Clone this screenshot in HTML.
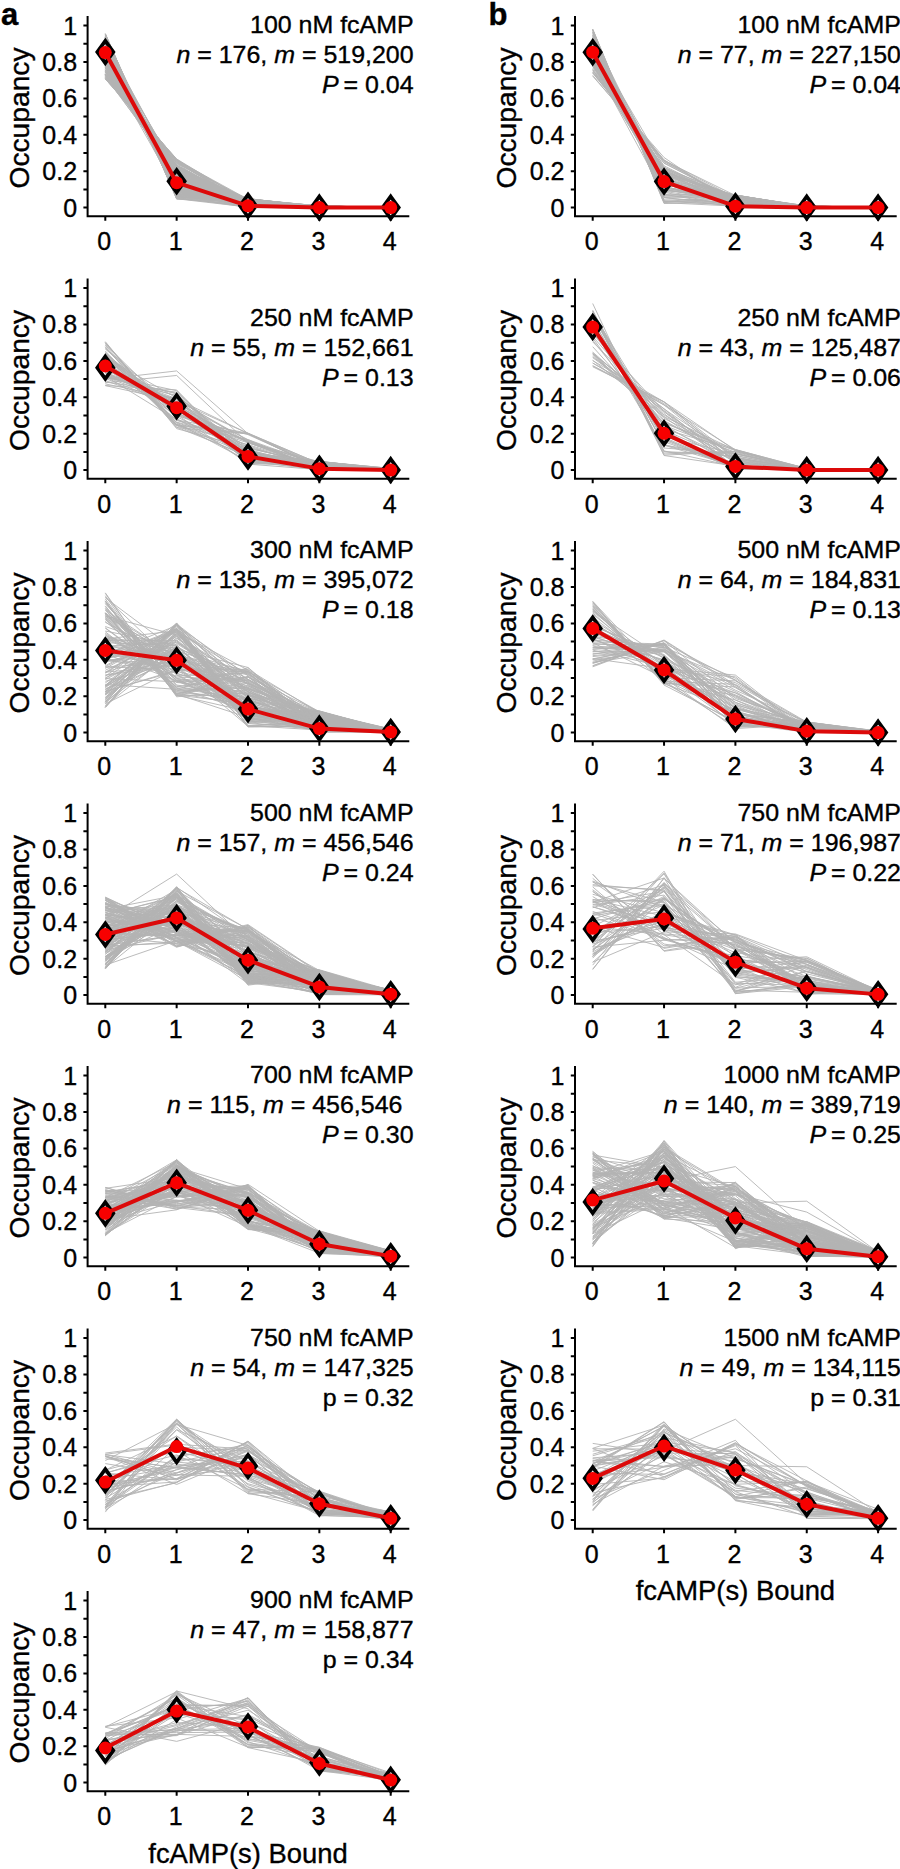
<!DOCTYPE html>
<html><head><meta charset="utf-8"><style>
html,body{margin:0;padding:0;background:#fff;}
body{width:900px;height:1869px;overflow:hidden;}
svg text{font-family:"Liberation Sans", sans-serif;fill:#000;stroke:#000;stroke-width:0.35px;}
</style></head><body>
<svg width="900" height="1869" viewBox="0 0 900 1869" style="display:block"><rect width="900" height="1869" fill="#fff"/><g><path d="M105.3,65.37 L176.65,167.33 L248,203.98 L319.35,206.86 L390.7,207.6 M105.3,40.05 L176.65,191.18 L248,206.85 L319.35,206.25 L390.7,207.6 M105.3,58.24 L176.65,173.57 L248,200.13 L319.35,206.64 L390.7,207.6 M105.3,75.52 L176.65,166.74 L248,205 L319.35,205.91 L390.7,207.6 M105.3,41.61 L176.65,196.51 L248,200.13 L319.35,206.1 L390.7,207.6 M105.3,55.94 L176.65,173.13 L248,203.64 L319.35,207.31 L390.7,207.6 M105.3,42.08 L176.65,175 L248,207.03 L319.35,207.14 L390.7,207.6 M105.3,37.35 L176.65,192.19 L248,204.16 L319.35,207.43 L390.7,207.6 M105.3,73.97 L176.65,171.22 L248,198.89 L319.35,206.19 L390.7,207.6 M105.3,50.5 L176.65,189.24 L248,200.87 L319.35,205.91 L390.7,207.6 M105.3,56.9 L176.65,185.37 L248,205.37 L319.35,206.23 L390.7,207.6 M105.3,74.53 L176.65,159.8 L248,201.36 L319.35,207.52 L390.7,207.6 M105.3,60.98 L176.65,179.51 L248,201.45 L319.35,206.12 L390.7,207.6 M105.3,65.26 L176.65,166.33 L248,207.06 L319.35,206 L390.7,207.6 M105.3,65.77 L176.65,168.02 L248,206.85 L319.35,206.63 L390.7,207.6 M105.3,48.99 L176.65,187.77 L248,205.94 L319.35,206.48 L390.7,207.6 M105.3,74.31 L176.65,163.36 L248,201.46 L319.35,207.23 L390.7,207.6 M105.3,72.56 L176.65,166.89 L248,203.77 L319.35,206.12 L390.7,207.6 M105.3,55.56 L176.65,186.81 L248,200.11 L319.35,206.1 L390.7,207.6 M105.3,42.39 L176.65,173.51 L248,204.64 L319.35,207.44 L390.7,207.6 M105.3,41.03 L176.65,191.04 L248,205.06 L319.35,206.2 L390.7,207.6 M105.3,64.26 L176.65,171.26 L248,202.66 L319.35,206.48 L390.7,207.6 M105.3,46.5 L176.65,187.03 L248,199.84 L319.35,207.45 L390.7,207.6 M105.3,70.08 L176.65,175.46 L248,202.1 L319.35,206 L390.7,207.6 M105.3,77.92 L176.65,159.16 L248,205.76 L319.35,207.19 L390.7,207.6 M105.3,69.72 L176.65,161.47 L248,200.5 L319.35,207.51 L390.7,207.6 M105.3,75.78 L176.65,162.57 L248,204.41 L319.35,206.11 L390.7,207.6 M105.3,49.2 L176.65,188.72 L248,204.74 L319.35,206.18 L390.7,207.6 M105.3,55.54 L176.65,190.7 L248,198.66 L319.35,206.82 L390.7,207.6 M105.3,37.56 L176.65,197.26 L248,199.01 L319.35,207.18 L390.7,207.6 M105.3,69.57 L176.65,179.91 L248,201.69 L319.35,206.88 L390.7,207.6 M105.3,71.15 L176.65,161.46 L248,205.99 L319.35,207.53 L390.7,207.6 M105.3,43.38 L176.65,189.64 L248,199.13 L319.35,206.71 L390.7,207.6 M105.3,49.8 L176.65,177.98 L248,206.84 L319.35,206.36 L390.7,207.6 M105.3,36.24 L176.65,189.42 L248,199.17 L319.35,207.58 L390.7,207.6 M105.3,46.51 L176.65,176.85 L248,201.13 L319.35,207.51 L390.7,207.6 M105.3,52.89 L176.65,185.7 L248,201.29 L319.35,206.59 L390.7,207.6 M105.3,74.55 L176.65,166.65 L248,201.31 L319.35,206.92 L390.7,207.6 M105.3,78.93 L176.65,160.21 L248,199.27 L319.35,207.15 L390.7,207.6 M105.3,52.64 L176.65,184.98 L248,204.61 L319.35,206.04 L390.7,207.6 M105.3,34.31 L176.65,198.54 L248,205.66 L319.35,206.58 L390.7,207.6 M105.3,62.7 L176.65,184.17 L248,198.95 L319.35,206.99 L390.7,207.6 M105.3,64.24 L176.65,172.44 L248,203.48 L319.35,206.87 L390.7,207.6 M105.3,74.91 L176.65,166.99 L248,205.88 L319.35,205.81 L390.7,207.6 M105.3,62.66 L176.65,167.33 L248,202.24 L319.35,206.78 L390.7,207.6 M105.3,39.79 L176.65,193.72 L248,201.97 L319.35,207.31 L390.7,207.6 M105.3,71.63 L176.65,169.27 L248,205.23 L319.35,206.67 L390.7,207.6 M105.3,38.67 L176.65,194 L248,201.36 L319.35,207.48 L390.7,207.6 M105.3,73.64 L176.65,166.79 L248,202.31 L319.35,206.62 L390.7,207.6 M105.3,44.89 L176.65,188.64 L248,206.06 L319.35,206.28 L390.7,207.6 M105.3,41.65 L176.65,190.43 L248,204.84 L319.35,206.74 L390.7,207.6 M105.3,75.02 L176.65,167.74 L248,198.77 L319.35,206.72 L390.7,207.6 M105.3,63.39 L176.65,167.97 L248,205.25 L319.35,206.86 L390.7,207.6 M105.3,67.85 L176.65,162.14 L248,204.48 L319.35,207.14 L390.7,207.6 M105.3,74.7 L176.65,165.51 L248,201.6 L319.35,206.14 L390.7,207.6 M105.3,75.78 L176.65,174.31 L248,206.21 L319.35,205.79 L390.7,207.6 M105.3,63.01 L176.65,166.58 L248,205.43 L319.35,207.26 L390.7,207.6 M105.3,51.63 L176.65,176.74 L248,201.05 L319.35,207.22 L390.7,207.6 M105.3,59.95 L176.65,167.93 L248,206.51 L319.35,206.77 L390.7,207.6 M105.3,35.06 L176.65,190.43 L248,205.07 L319.35,207.52 L390.7,207.6 M105.3,56.39 L176.65,188.53 L248,199.05 L319.35,207.35 L390.7,207.6 M105.3,54.13 L176.65,181.82 L248,206.18 L319.35,206.87 L390.7,207.6 M105.3,57.16 L176.65,183.82 L248,199.44 L319.35,206.62 L390.7,207.6 M105.3,70.8 L176.65,164.8 L248,205.69 L319.35,206.07 L390.7,207.6 M105.3,40.5 L176.65,191.76 L248,206.66 L319.35,207.13 L390.7,207.6 M105.3,54.84 L176.65,186.61 L248,201.74 L319.35,206.89 L390.7,207.6 M105.3,70.17 L176.65,171.07 L248,201.44 L319.35,206.21 L390.7,207.6 M105.3,56.29 L176.65,181.07 L248,201.29 L319.35,206.97 L390.7,207.6 M105.3,54.38 L176.65,176.14 L248,200.42 L319.35,207.33 L390.7,207.6 M105.3,68.19 L176.65,175.83 L248,200.55 L319.35,206.17 L390.7,207.6 M105.3,50.31 L176.65,187.29 L248,204.17 L319.35,206.19 L390.7,207.6 M105.3,36.5 L176.65,198.58 L248,198.96 L319.35,205.98 L390.7,207.6 M105.3,64.1 L176.65,182.91 L248,203.12 L319.35,205.84 L390.7,207.6 M105.3,37.15 L176.65,192.84 L248,206.18 L319.35,207.16 L390.7,207.6 M105.3,67.11 L176.65,174.84 L248,204.18 L319.35,206.05 L390.7,207.6 M105.3,64.37 L176.65,171.59 L248,201.56 L319.35,206.91 L390.7,207.6 M105.3,47.47 L176.65,178.81 L248,207.19 L319.35,206.44 L390.7,207.6 M105.3,63.78 L176.65,190.32 L248,199.58 L319.35,206.11 L390.7,207.6 M105.3,60.77 L176.65,171.81 L248,204.27 L319.35,206.21 L390.7,207.6 M105.3,71.72 L176.65,173.24 L248,199.37 L319.35,206.43 L390.7,207.6 M105.3,44.15 L176.65,184.4 L248,201.21 L319.35,207.51 L390.7,207.6 M105.3,48.02 L176.65,169.63 L248,204.52 L319.35,207.58 L390.7,207.6 M105.3,78.39 L176.65,159.69 L248,203.84 L319.35,207.2 L390.7,207.6 M105.3,65.29 L176.65,165.28 L248,203.45 L319.35,206.8 L390.7,207.6 M105.3,68.37 L176.65,174.01 L248,199.53 L319.35,207.02 L390.7,207.6 M105.3,72.11 L176.65,168.79 L248,199.37 L319.35,206.06 L390.7,207.6 M105.3,50.15 L176.65,175.71 L248,205.38 L319.35,206.97 L390.7,207.6 M105.3,37.32 L176.65,193.52 L248,202.93 L319.35,207.2 L390.7,207.6 M105.3,52.61 L176.65,178.01 L248,201.54 L319.35,207.35 L390.7,207.6 M105.3,46.91 L176.65,188.98 L248,199.59 L319.35,207.21 L390.7,207.6 M105.3,45.22 L176.65,191.65 L248,203.58 L319.35,206.95 L390.7,207.6 M105.3,41.73 L176.65,192.84 L248,200.94 L319.35,207.23 L390.7,207.6 M105.3,49.93 L176.65,181.59 L248,204.08 L319.35,206.94 L390.7,207.6 M105.3,44.89 L176.65,184.9 L248,201.82 L319.35,207.34 L390.7,207.6 M105.3,78.75 L176.65,160.35 L248,200.46 L319.35,205.88 L390.7,207.6 M105.3,55.87 L176.65,188.58 L248,203.7 L319.35,206.31 L390.7,207.6 M105.3,51.67 L176.65,191.55 L248,201.49 L319.35,205.98 L390.7,207.6 M105.3,33.63 L176.65,198.78 L248,207.04 L319.35,205.97 L390.7,207.6 M105.3,55.71 L176.65,172.87 L248,203.85 L319.35,206.49 L390.7,207.6 M105.3,36.04 L176.65,187.76 L248,206.96 L319.35,206.96 L390.7,207.6 M105.3,66.42 L176.65,166.17 L248,206.63 L319.35,206.91 L390.7,207.6 M105.3,43 L176.65,187.06 L248,206.49 L319.35,207.24 L390.7,207.6 M105.3,49.56 L176.65,194.94 L248,200.7 L319.35,206.23 L390.7,207.6 M105.3,58.6 L176.65,175.3 L248,200.46 L319.35,207.44 L390.7,207.6 M105.3,77.43 L176.65,165.83 L248,201.78 L319.35,206.42 L390.7,207.6 M105.3,62.81 L176.65,175.07 L248,206.27 L319.35,206.07 L390.7,207.6 M105.3,37.4 L176.65,194.26 L248,202.99 L319.35,206.42 L390.7,207.6 M105.3,67.55 L176.65,181.4 L248,200.45 L319.35,205.88 L390.7,207.6 M105.3,35.57 L176.65,197.38 L248,207.25 L319.35,205.95 L390.7,207.6 M105.3,46.49 L176.65,189.67 L248,199.89 L319.35,207.24 L390.7,207.6 M105.3,37.47 L176.65,189.09 L248,207.38 L319.35,207.11 L390.7,207.6 M105.3,52.48 L176.65,189.66 L248,203.6 L319.35,206 L390.7,207.6 M105.3,34.97 L176.65,196.36 L248,204.22 L319.35,206.69 L390.7,207.6 M105.3,37.47 L176.65,196.33 L248,200.58 L319.35,207.05 L390.7,207.6 M105.3,42.85 L176.65,196.78 L248,199.81 L319.35,206.72 L390.7,207.6 M105.3,65.3 L176.65,165.37 L248,204.32 L319.35,207.04 L390.7,207.6 M105.3,52.69 L176.65,177.98 L248,203.09 L319.35,206.76 L390.7,207.6 M105.3,78.92 L176.65,158.97 L248,202.09 L319.35,207.46 L390.7,207.6 M105.3,50.47 L176.65,184.46 L248,204.5 L319.35,206.27 L390.7,207.6 M105.3,47.32 L176.65,182.82 L248,202.22 L319.35,207.35 L390.7,207.6 M105.3,44.71 L176.65,178.69 L248,202.91 L319.35,207.52 L390.7,207.6 M105.3,38.5 L176.65,191.08 L248,203.35 L319.35,206.98 L390.7,207.6 M105.3,37.92 L176.65,191.72 L248,207.15 L319.35,206.98 L390.7,207.6 M105.3,66.31 L176.65,172.85 L248,202.96 L319.35,205.82 L390.7,207.6 M105.3,38.24 L176.65,196.76 L248,201.87 L319.35,206.13 L390.7,207.6 M105.3,67.86 L176.65,163.75 L248,206.85 L319.35,206.03 L390.7,207.6 M105.3,47.02 L176.65,170.9 L248,207.5 L319.35,207.13 L390.7,207.6 M105.3,69.99 L176.65,167.66 L248,203.38 L319.35,206.3 L390.7,207.6 M105.3,51.34 L176.65,183.79 L248,201 L319.35,206.95 L390.7,207.6 M105.3,38.75 L176.65,189.74 L248,201.3 L319.35,207.14 L390.7,207.6 M105.3,43.85 L176.65,185.22 L248,206.99 L319.35,207.33 L390.7,207.6 M105.3,38.49 L176.65,195.89 L248,205.09 L319.35,206.21 L390.7,207.6 M105.3,57.16 L176.65,168.13 L248,199.9 L319.35,207.56 L390.7,207.6 M105.3,43.79 L176.65,183.14 L248,205.91 L319.35,207.36 L390.7,207.6 M105.3,45.53 L176.65,191.17 L248,202.23 L319.35,206.03 L390.7,207.6 M105.3,45.12 L176.65,189.94 L248,204.21 L319.35,206.72 L390.7,207.6 M105.3,53.08 L176.65,188.64 L248,198.53 L319.35,207.35 L390.7,207.6 M105.3,62.29 L176.65,173.9 L248,200.54 L319.35,206.49 L390.7,207.6 M105.3,66.34 L176.65,168.85 L248,205.06 L319.35,206.34 L390.7,207.6 M105.3,59.84 L176.65,178.21 L248,200.47 L319.35,206.32 L390.7,207.6 M105.3,76.73 L176.65,160.91 L248,205.21 L319.35,206.29 L390.7,207.6 M105.3,35.93 L176.65,196.12 L248,201.99 L319.35,207.16 L390.7,207.6 M105.3,48.83 L176.65,191.85 L248,198.58 L319.35,207.34 L390.7,207.6 M105.3,54.45 L176.65,186.1 L248,203.61 L319.35,206.97 L390.7,207.6 M105.3,42.79 L176.65,194.89 L248,203.17 L319.35,205.99 L390.7,207.6 M105.3,64.16 L176.65,166.71 L248,205.62 L319.35,206.66 L390.7,207.6 M105.3,34.48 L176.65,198.3 L248,205.7 L319.35,206.49 L390.7,207.6 M105.3,40.58 L176.65,187.75 L248,201.14 L319.35,207.43 L390.7,207.6 M105.3,37.27 L176.65,194.02 L248,206.17 L319.35,206.73 L390.7,207.6 M105.3,50.27 L176.65,176.59 L248,204.74 L319.35,207.2 L390.7,207.6 M105.3,43.5 L176.65,191.18 L248,200.43 L319.35,207.5 L390.7,207.6 M105.3,47.65 L176.65,194.29 L248,205.9 L319.35,206.28 L390.7,207.6 M105.3,49.54 L176.65,191.42 L248,206.76 L319.35,206.16 L390.7,207.6 M105.3,40.94 L176.65,188.2 L248,203.07 L319.35,207.48 L390.7,207.6 M105.3,65.42 L176.65,165.93 L248,207.27 L319.35,205.96 L390.7,207.6 M105.3,71.98 L176.65,176.63 L248,199.35 L319.35,205.91 L390.7,207.6 M105.3,61.38 L176.65,168.49 L248,203.23 L319.35,207.29 L390.7,207.6 M105.3,74.48 L176.65,162.92 L248,199.37 L319.35,206.82 L390.7,207.6 M105.3,77.67 L176.65,160.27 L248,205.9 L319.35,206.07 L390.7,207.6 M105.3,70.34 L176.65,174.41 L248,202.51 L319.35,205.95 L390.7,207.6 M105.3,37.1 L176.65,195.47 L248,207.22 L319.35,206.03 L390.7,207.6 M105.3,61.69 L176.65,177.67 L248,201.93 L319.35,206.26 L390.7,207.6 M105.3,33.57 L176.65,199.14 L248,201.83 L319.35,207.06 L390.7,207.6 M105.3,62.54 L176.65,181.77 L248,199.88 L319.35,206.27 L390.7,207.6 M105.3,51.31 L176.65,194.63 L248,202.03 L319.35,205.88 L390.7,207.6 M105.3,65.99 L176.65,171.25 L248,199.3 L319.35,207.21 L390.7,207.6 M105.3,74.41 L176.65,168.56 L248,199.22 L319.35,206.01 L390.7,207.6 M105.3,52.53 L176.65,182.05 L248,201.15 L319.35,206.65 L390.7,207.6 M105.3,50.55 L176.65,178.56 L248,201.25 L319.35,206.88 L390.7,207.6 M105.3,34.93 L176.65,196.6 L248,206.78 L319.35,206.78 L390.7,207.6 M105.3,61.82 L176.65,176.99 L248,201.83 L319.35,206.25 L390.7,207.6 M105.3,76.85 L176.65,172.45 L248,199.71 L319.35,205.85 L390.7,207.6 M105.3,34 L176.65,196.42 L248,200.01 L319.35,207.39 L390.7,207.6 M105.3,64.75 L176.65,168.63 L248,201.3 L319.35,206.21 L390.7,207.6 M105.3,60.96 L176.65,173.14 L248,205.69 L319.35,206.12 L390.7,207.6 M105.3,47.57 L176.65,181.11 L248,205.76 L319.35,206.27 L390.7,207.6" fill="none" stroke="#b3b3b3" stroke-width="0.9" stroke-linejoin="round"/><path d="M87.6,16 V216.2 H409.3" fill="none" stroke="#000" stroke-width="2"/><path d="M83.4,207.6 H87.6 M83.4,189.4 H87.6 M83.4,171.2 H87.6 M83.4,153 H87.6 M83.4,134.8 H87.6 M83.4,116.6 H87.6 M83.4,98.4 H87.6 M83.4,80.2 H87.6 M83.4,62 H87.6 M83.4,43.8 H87.6 M83.4,25.6 H87.6 M105.3,216.2 V220.7 M176.65,216.2 V220.7 M248,216.2 V220.7 M319.35,216.2 V220.7 M390.7,216.2 V220.7" stroke="#000" stroke-width="2"/><path d="M105.3,40.89 L113.3,51.99 L105.3,63.09 L97.3,51.99Z" fill="none" stroke="#000" stroke-width="3.7" stroke-miterlimit="10"/><path d="M176.65,170.11 L184.65,181.21 L176.65,192.31 L168.65,181.21Z" fill="none" stroke="#000" stroke-width="3.7" stroke-miterlimit="10"/><path d="M248,194.68 L256,205.78 L248,216.88 L240,205.78Z" fill="none" stroke="#000" stroke-width="3.7" stroke-miterlimit="10"/><path d="M319.35,196.5 L327.35,207.6 L319.35,218.7 L311.35,207.6Z" fill="none" stroke="#000" stroke-width="3.7" stroke-miterlimit="10"/><path d="M390.7,196.5 L398.7,207.6 L390.7,218.7 L382.7,207.6Z" fill="none" stroke="#000" stroke-width="3.7" stroke-miterlimit="10"/><path d="M105.3,52.54 L176.65,182.67 L248,205.78 L319.35,207.6 L390.7,207.6" fill="none" stroke="#dc0a0a" stroke-width="4" stroke-linejoin="round"/><circle cx="105.3" cy="52.54" r="6.5" fill="#f70000"/><circle cx="176.65" cy="182.67" r="6.5" fill="#f70000"/><circle cx="248" cy="205.78" r="6.5" fill="#f70000"/><circle cx="319.35" cy="207.6" r="6.5" fill="#f70000"/><circle cx="390.7" cy="207.6" r="6.5" fill="#f70000"/><text transform="translate(77.1,216.5) scale(1.0,1)" text-anchor="end" font-size="25.0">0</text><text transform="translate(77.1,180.1) scale(1.0,1)" text-anchor="end" font-size="25.0">0.2</text><text transform="translate(77.1,143.7) scale(1.0,1)" text-anchor="end" font-size="25.0">0.4</text><text transform="translate(77.1,107.3) scale(1.0,1)" text-anchor="end" font-size="25.0">0.6</text><text transform="translate(77.1,70.9) scale(1.0,1)" text-anchor="end" font-size="25.0">0.8</text><text transform="translate(77.1,34.5) scale(1.0,1)" text-anchor="end" font-size="25.0">1</text><text transform="translate(104.3,250.2) scale(1.0,1)" text-anchor="middle" font-size="25.0">0</text><text transform="translate(175.65,250.2) scale(1.0,1)" text-anchor="middle" font-size="25.0">1</text><text transform="translate(247,250.2) scale(1.0,1)" text-anchor="middle" font-size="25.0">2</text><text transform="translate(318.35,250.2) scale(1.0,1)" text-anchor="middle" font-size="25.0">3</text><text transform="translate(389.7,250.2) scale(1.0,1)" text-anchor="middle" font-size="25.0">4</text><text transform="translate(28.8,118) rotate(-90)" text-anchor="middle" font-size="28.2">Occupancy</text><text transform="translate(413.6,33) scale(1.04,1)" text-anchor="end" font-size="24.0">100 nM fcAMP</text><text transform="translate(413.6,63) scale(1.04,1)" text-anchor="end" font-size="24.0"><tspan font-style="italic">n</tspan> = 176, <tspan font-style="italic">m</tspan> = 519,200</text><text transform="translate(413.6,93) scale(1.04,1)" text-anchor="end" font-size="24.0"><tspan font-style="italic">P</tspan><tspan dx="-2"> </tspan>= 0.04</text></g><g><path d="M105.3,367.89 L176.65,415.77 L248,434.64 L319.35,466.74 L390.7,469.63 M105.3,368.47 L176.65,404.06 L248,454.62 L319.35,464.81 L390.7,468.76 M105.3,372.56 L176.65,403.96 L248,450.75 L319.35,467.43 L390.7,468.39 M105.3,342.57 L176.65,422.92 L248,461.09 L319.35,469.22 L390.7,468.62 M105.3,376.2 L176.65,395.71 L248,450.57 L319.35,464.97 L390.7,469.75 M105.3,353.47 L176.65,424.65 L248,433.76 L319.35,466.94 L390.7,469.92 M105.3,349.04 L176.65,407.67 L248,460 L319.35,465.98 L390.7,470.04 M105.3,359.56 L176.65,406.32 L248,461.57 L319.35,464.22 L390.7,468.7 M105.3,360.97 L176.65,414.46 L248,445.59 L319.35,468.5 L390.7,468.53 M105.3,352.41 L176.65,422.49 L248,446.85 L319.35,466.49 L390.7,468.5 M105.3,347.34 L176.65,425.56 L248,457.04 L319.35,461.53 L390.7,468.51 M105.3,382.03 L176.65,392.18 L248,456.78 L319.35,466.71 L390.7,468.5 M105.3,368.13 L176.65,401.78 L248,451.88 L319.35,468.05 L390.7,469 M105.3,355.73 L176.65,405.62 L248,461.91 L319.35,464.93 L390.7,469.3 M105.3,375.42 L176.65,399.99 L248,440.31 L319.35,468.34 L390.7,469.54 M105.3,376.04 L176.65,419.98 L248,433.12 L319.35,463.65 L390.7,468.63 M105.3,342.56 L176.65,427.17 L248,455.81 L319.35,461.64 L390.7,469.56 M105.3,346.54 L176.65,427.61 L248,433.87 L319.35,467.72 L390.7,469.81 M105.3,378.43 L176.65,406.08 L248,442.37 L319.35,461.83 L390.7,468.74 M105.3,385.53 L176.65,389.94 L248,462.34 L319.35,461.71 L390.7,468.48 M105.3,376.23 L176.65,399.25 L248,452.79 L319.35,461.08 L390.7,470 M105.3,369.48 L176.65,405.64 L248,442.15 L319.35,469.3 L390.7,468.81 M105.3,355.02 L176.65,425.55 L248,433.43 L319.35,468.24 L390.7,469.32 M105.3,357.08 L176.65,398.05 L248,461.52 L319.35,469.42 L390.7,469.65 M105.3,372.35 L176.65,398.8 L248,442.35 L319.35,467.91 L390.7,469.96 M105.3,363.71 L176.65,406.24 L248,457.32 L319.35,461.76 L390.7,469.6 M105.3,341.62 L176.65,428.61 L248,448.45 L319.35,463.34 L390.7,469.13 M105.3,376.99 L176.65,402.85 L248,439.67 L319.35,469.29 L390.7,468.46 M105.3,373.44 L176.65,405.98 L248,454.55 L319.35,465.66 L390.7,468.3 M105.3,358.73 L176.65,416.55 L248,453.61 L319.35,461.38 L390.7,469.29 M105.3,377.09 L176.65,393.28 L248,463.33 L319.35,463.17 L390.7,468.58 M105.3,344.09 L176.65,414.34 L248,463.66 L319.35,465.61 L390.7,469.88 M105.3,351.02 L176.65,425.2 L248,444.62 L319.35,466.86 L390.7,468.35 M105.3,361.75 L176.65,411.62 L248,454.77 L319.35,462.22 L390.7,469.06 M105.3,356.46 L176.65,420.37 L248,442.79 L319.35,463.24 L390.7,469.39 M105.3,355.87 L176.65,413.96 L248,441 L319.35,467.24 L390.7,470.01 M105.3,356.3 L176.65,405.68 L248,459.77 L319.35,467.05 L390.7,469.28 M105.3,383.89 L176.65,398.93 L248,433.42 L319.35,465.68 L390.7,469.75 M105.3,355.3 L176.65,412.02 L248,454.24 L319.35,464.17 L390.7,469.69 M105.3,356.89 L176.65,413.21 L248,440.76 L319.35,468.83 L390.7,469.87 M105.3,385.61 L176.65,401.2 L248,433.36 L319.35,463.51 L390.7,468.63 M105.3,367.72 L176.65,402.25 L248,449.28 L319.35,469.47 L390.7,468.75 M105.3,356.19 L176.65,408.59 L248,442.46 L319.35,468.55 L390.7,470.07 M105.3,380.55 L176.65,406.29 L248,452.34 L319.35,461.81 L390.7,468.29 M105.3,372.52 L176.65,406.06 L248,452.78 L319.35,464.74 L390.7,468.36 M105.3,342.9 L176.65,424.73 L248,454.12 L319.35,468.88 L390.7,469.06 M105.3,368.25 L176.65,402.23 L248,447.63 L319.35,465.54 L390.7,469.85 M105.3,353.56 L176.65,409.23 L248,460.22 L319.35,464.78 L390.7,469.47 M105.3,345.12 L176.65,424.18 L248,451.7 L319.35,468.66 L390.7,468.67 M105.3,375.9 L176.65,393.87 L248,462.79 L319.35,465.38 L390.7,468.46 M105.3,376.82 L176.65,395.77 L248,453.84 L319.35,463 L390.7,469.62 M105.3,363.39 L176.65,419.94 L248,441.25 L319.35,464.87 L390.7,468.43 M105.3,375.16 L176.65,390.69 L248,464.12 L319.35,469.62 L390.7,468.56 M105.3,356.59 L176.65,422.19 L248,439.63 L319.35,465.31 L390.7,468.9 M105.3,348.05 L176.65,418.3 L248,461.81 L319.35,463.29 L390.7,468.83 M105.3,379.1 L176.65,370.91 L248,433.7 L319.35,464.64 L390.7,470.1 M105.3,382.74 L176.65,375.46 L248,442.8 L319.35,466.46 L390.7,470.1" fill="none" stroke="#b3b3b3" stroke-width="0.9" stroke-linejoin="round"/><path d="M87.6,278.5 V478.7 H409.3" fill="none" stroke="#000" stroke-width="2"/><path d="M83.4,470.1 H87.6 M83.4,451.9 H87.6 M83.4,433.7 H87.6 M83.4,415.5 H87.6 M83.4,397.3 H87.6 M83.4,379.1 H87.6 M83.4,360.9 H87.6 M83.4,342.7 H87.6 M83.4,324.5 H87.6 M83.4,306.3 H87.6 M83.4,288.1 H87.6 M105.3,478.7 V483.2 M176.65,478.7 V483.2 M248,478.7 V483.2 M319.35,478.7 V483.2 M390.7,478.7 V483.2" stroke="#000" stroke-width="2"/><path d="M105.3,356.53 L113.3,367.63 L105.3,378.73 L97.3,367.63Z" fill="none" stroke="#000" stroke-width="3.7" stroke-miterlimit="10"/><path d="M176.65,395.12 L184.65,406.22 L176.65,417.32 L168.65,406.22Z" fill="none" stroke="#000" stroke-width="3.7" stroke-miterlimit="10"/><path d="M248,445.35 L256,456.45 L248,467.55 L240,456.45Z" fill="none" stroke="#000" stroke-width="3.7" stroke-miterlimit="10"/><path d="M319.35,457.54 L327.35,468.64 L319.35,479.74 L311.35,468.64Z" fill="none" stroke="#000" stroke-width="3.7" stroke-miterlimit="10"/><path d="M390.7,459 L398.7,470.1 L390.7,481.2 L382.7,470.1Z" fill="none" stroke="#000" stroke-width="3.7" stroke-miterlimit="10"/><path d="M105.3,366 L176.65,407.67 L248,456.45 L319.35,468.64 L390.7,470.1" fill="none" stroke="#dc0a0a" stroke-width="4" stroke-linejoin="round"/><circle cx="105.3" cy="366" r="6.5" fill="#f70000"/><circle cx="176.65" cy="407.67" r="6.5" fill="#f70000"/><circle cx="248" cy="456.45" r="6.5" fill="#f70000"/><circle cx="319.35" cy="468.64" r="6.5" fill="#f70000"/><circle cx="390.7" cy="470.1" r="6.5" fill="#f70000"/><text transform="translate(77.1,479) scale(1.0,1)" text-anchor="end" font-size="25.0">0</text><text transform="translate(77.1,442.6) scale(1.0,1)" text-anchor="end" font-size="25.0">0.2</text><text transform="translate(77.1,406.2) scale(1.0,1)" text-anchor="end" font-size="25.0">0.4</text><text transform="translate(77.1,369.8) scale(1.0,1)" text-anchor="end" font-size="25.0">0.6</text><text transform="translate(77.1,333.4) scale(1.0,1)" text-anchor="end" font-size="25.0">0.8</text><text transform="translate(77.1,297) scale(1.0,1)" text-anchor="end" font-size="25.0">1</text><text transform="translate(104.3,512.7) scale(1.0,1)" text-anchor="middle" font-size="25.0">0</text><text transform="translate(175.65,512.7) scale(1.0,1)" text-anchor="middle" font-size="25.0">1</text><text transform="translate(247,512.7) scale(1.0,1)" text-anchor="middle" font-size="25.0">2</text><text transform="translate(318.35,512.7) scale(1.0,1)" text-anchor="middle" font-size="25.0">3</text><text transform="translate(389.7,512.7) scale(1.0,1)" text-anchor="middle" font-size="25.0">4</text><text transform="translate(28.8,380.5) rotate(-90)" text-anchor="middle" font-size="28.2">Occupancy</text><text transform="translate(413.6,325.5) scale(1.04,1)" text-anchor="end" font-size="24.0">250 nM fcAMP</text><text transform="translate(413.6,355.5) scale(1.04,1)" text-anchor="end" font-size="24.0"><tspan font-style="italic">n</tspan> = 55, <tspan font-style="italic">m</tspan> = 152,661</text><text transform="translate(413.6,385.5) scale(1.04,1)" text-anchor="end" font-size="24.0"><tspan font-style="italic">P</tspan><tspan dx="-2"> </tspan>= 0.13</text></g><g><path d="M105.3,619.07 L176.65,690.35 L248,686.08 L319.35,714.96 L390.7,731.52 M105.3,701.72 L176.65,625.5 L248,675.8 L319.35,732.22 L390.7,731.59 M105.3,685.21 L176.65,630.05 L248,720.98 L319.35,713.21 L390.7,730.84 M105.3,693.83 L176.65,647.01 L248,682.1 L319.35,717.92 L390.7,729.84 M105.3,686.97 L176.65,640.78 L248,694.62 L319.35,717.65 L390.7,730.79 M105.3,600.86 L176.65,695.25 L248,711.38 L319.35,711.07 L390.7,731.8 M105.3,670.26 L176.65,636.42 L248,710.1 L319.35,723.51 L390.7,731.02 M105.3,639.49 L176.65,667.62 L248,719.66 L319.35,711.33 L390.7,730.35 M105.3,638.73 L176.65,657.49 L248,706.63 L319.35,718.23 L390.7,732.06 M105.3,636.95 L176.65,648.39 L248,719.47 L319.35,720.11 L390.7,730.87 M105.3,699.7 L176.65,633.02 L248,698.16 L319.35,712.56 L390.7,730.63 M105.3,612.88 L176.65,688.2 L248,710.58 L319.35,711.23 L390.7,731.91 M105.3,642.7 L176.65,645.44 L248,707.76 L319.35,729.99 L390.7,730.9 M105.3,672.18 L176.65,665.24 L248,683.41 L319.35,711.75 L390.7,732.39 M105.3,682.9 L176.65,634.39 L248,697.57 L319.35,725.56 L390.7,731.39 M105.3,616.14 L176.65,657.23 L248,708.21 L319.35,729.55 L390.7,732.29 M105.3,613.62 L176.65,668.13 L248,712.89 L319.35,725.31 L390.7,731.39 M105.3,650.51 L176.65,667.47 L248,685.8 L319.35,724.34 L390.7,731 M105.3,691.58 L176.65,628.51 L248,718.15 L319.35,715.27 L390.7,730.26 M105.3,616.91 L176.65,678.35 L248,699.27 L319.35,729.71 L390.7,729.6 M105.3,701.07 L176.65,629.65 L248,713.91 L319.35,713.28 L390.7,729.08 M105.3,646.01 L176.65,642.74 L248,683.42 L319.35,731.47 L390.7,732.57 M105.3,658.29 L176.65,632.33 L248,717.52 L319.35,720.93 L390.7,732.39 M105.3,653.39 L176.65,631.84 L248,720.6 L319.35,723.08 L390.7,732.19 M105.3,601.63 L176.65,695.17 L248,695.94 L319.35,716.68 L390.7,730.56 M105.3,702.42 L176.65,625.52 L248,691.39 L319.35,727.27 L390.7,730.8 M105.3,694.63 L176.65,643.69 L248,687.37 L319.35,714.57 L390.7,730.21 M105.3,605.88 L176.65,690.19 L248,702.45 L319.35,723.84 L390.7,729.55 M105.3,658.59 L176.65,675.93 L248,672.98 L319.35,730.94 L390.7,729.54 M105.3,661.09 L176.65,650.98 L248,709.46 L319.35,719.86 L390.7,729.59 M105.3,660.06 L176.65,629.08 L248,718.13 L319.35,730.54 L390.7,731.43 M105.3,652.95 L176.65,658.81 L248,700.79 L319.35,713.85 L390.7,732.16 M105.3,673.21 L176.65,628.48 L248,723.43 L319.35,714.04 L390.7,732.18 M105.3,699.12 L176.65,635.84 L248,679.51 L319.35,716.35 L390.7,731.98 M105.3,610.39 L176.65,680.95 L248,698.48 L319.35,727.22 L390.7,731.37 M105.3,638.36 L176.65,650.53 L248,716.96 L319.35,714.8 L390.7,732.16 M105.3,592.82 L176.65,694.16 L248,717.46 L319.35,729.64 L390.7,730.49 M105.3,657.9 L176.65,649.33 L248,691.57 L319.35,729.94 L390.7,730.85 M105.3,595.7 L176.65,696.82 L248,689.61 L319.35,731.36 L390.7,729.23 M105.3,626.53 L176.65,650.66 L248,721.23 L319.35,726.37 L390.7,729.83 M105.3,694.43 L176.65,629.31 L248,682.11 L319.35,730.93 L390.7,731.75 M105.3,618.34 L176.65,693.51 L248,683.12 L319.35,718.16 L390.7,729.62 M105.3,613.06 L176.65,656.4 L248,725.69 L319.35,721.94 L390.7,729.67 M105.3,600.81 L176.65,692.12 L248,699.45 L319.35,723.42 L390.7,730.93 M105.3,613.42 L176.65,687.73 L248,694.18 L319.35,721.77 L390.7,730.46 M105.3,691.19 L176.65,671.23 L248,688.34 L319.35,712.08 L390.7,728.98 M105.3,684.41 L176.65,689.34 L248,667.78 L319.35,730.01 L390.7,729.04 M105.3,678.46 L176.65,629.1 L248,711.52 L319.35,716.01 L390.7,732.55 M105.3,693.61 L176.65,634.67 L248,684.27 L319.35,730.3 L390.7,729.58 M105.3,666.72 L176.65,630.51 L248,722.54 L319.35,729.93 L390.7,729.13 M105.3,603.82 L176.65,678.4 L248,715.34 L319.35,719.36 L390.7,732.16 M105.3,697.14 L176.65,646.23 L248,688.88 L319.35,715.72 L390.7,729.08 M105.3,615.89 L176.65,635.15 L248,725.67 L319.35,730.03 L390.7,731.97 M105.3,687.6 L176.65,638.17 L248,689.91 L319.35,724.41 L390.7,730.72 M105.3,686.23 L176.65,651.13 L248,712.2 L319.35,710.9 L390.7,730.24 M105.3,691.69 L176.65,670 L248,671.57 L319.35,717.1 L390.7,729.7 M105.3,621.37 L176.65,680.53 L248,709.56 L319.35,717.07 L390.7,729.59 M105.3,608.2 L176.65,674.98 L248,715.32 L319.35,720.85 L390.7,731.59 M105.3,606.51 L176.65,695.7 L248,670.76 L319.35,729.23 L390.7,732.14 M105.3,602.82 L176.65,685.06 L248,695 L319.35,731.17 L390.7,731.16 M105.3,692.81 L176.65,626.83 L248,714.98 L319.35,728.76 L390.7,729.19 M105.3,601.13 L176.65,696.05 L248,676.94 L319.35,729.83 L390.7,730.57 M105.3,598.95 L176.65,693.19 L248,705.03 L319.35,720.69 L390.7,730.74 M105.3,703.8 L176.65,669 L248,669.46 L319.35,712.9 L390.7,729.07 M105.3,705.67 L176.65,649.12 L248,667.49 L319.35,726.98 L390.7,731.17 M105.3,660.07 L176.65,663.82 L248,683.19 L319.35,724.56 L390.7,730.94 M105.3,659.94 L176.65,657.59 L248,688.23 L319.35,726.98 L390.7,730.5 M105.3,653.04 L176.65,656.28 L248,710.87 L319.35,714.12 L390.7,730.87 M105.3,648.89 L176.65,673.21 L248,694.56 L319.35,723.09 L390.7,729.18 M105.3,679.64 L176.65,642.01 L248,690.51 L319.35,719.89 L390.7,732.04 M105.3,653.89 L176.65,680.82 L248,672.24 L319.35,728.53 L390.7,730.43 M105.3,685.92 L176.65,636.19 L248,694.56 L319.35,722.92 L390.7,731.27 M105.3,628.11 L176.65,682.17 L248,680.45 L319.35,719.16 L390.7,732.4 M105.3,608.79 L176.65,680.81 L248,711.91 L319.35,717.75 L390.7,731.49 M105.3,627.86 L176.65,679.51 L248,707 L319.35,714.2 L390.7,730.09 M105.3,677.73 L176.65,649.21 L248,707.82 L319.35,716.53 L390.7,729.16 M105.3,675.05 L176.65,660.35 L248,674.86 L319.35,724.45 L390.7,731.81 M105.3,666.94 L176.65,669.29 L248,681.18 L319.35,723.35 L390.7,729.6 M105.3,698.47 L176.65,631.81 L248,674.36 L319.35,718.58 L390.7,732.58 M105.3,706.5 L176.65,623.88 L248,692.11 L319.35,718.16 L390.7,730.91 M105.3,694.91 L176.65,655.19 L248,670.97 L319.35,722.47 L390.7,730.99 M105.3,675.21 L176.65,665.27 L248,683.37 L319.35,717.27 L390.7,729.91 M105.3,707.31 L176.65,624.65 L248,685.03 L319.35,721 L390.7,729.24 M105.3,654.07 L176.65,625.58 L248,726.85 L319.35,726.54 L390.7,731.61 M105.3,622.4 L176.65,659.57 L248,712 L319.35,730.98 L390.7,729.53 M105.3,617.27 L176.65,685.85 L248,701.14 L319.35,718.46 L390.7,729.87 M105.3,652.25 L176.65,670.19 L248,709.78 L319.35,711.51 L390.7,730.23 M105.3,697.79 L176.65,623.59 L248,719.27 L319.35,722.14 L390.7,731.45 M105.3,707.38 L176.65,623.91 L248,679.76 L319.35,719.26 L390.7,731.42 M105.3,612.64 L176.65,694.07 L248,676.42 L319.35,717.3 L390.7,732.17 M105.3,656.29 L176.65,654.69 L248,699.71 L319.35,723.23 L390.7,730.45 M105.3,676.34 L176.65,623.39 L248,726.72 L319.35,726.15 L390.7,731.8 M105.3,660.89 L176.65,666.39 L248,679.34 L319.35,716.4 L390.7,732.41 M105.3,678.54 L176.65,681.74 L248,677.18 L319.35,711.71 L390.7,729.81 M105.3,648.55 L176.65,653.86 L248,691.68 L319.35,726 L390.7,732.21 M105.3,645.85 L176.65,651.47 L248,713.32 L319.35,726.57 L390.7,729.38 M105.3,593.39 L176.65,694.94 L248,703.94 L319.35,725.12 L390.7,732.45 M105.3,633.39 L176.65,678.09 L248,693.08 L319.35,711.76 L390.7,732.51 M105.3,640.19 L176.65,640.72 L248,703.54 L319.35,731.57 L390.7,731.97 M105.3,701.58 L176.65,651.06 L248,671.6 L319.35,711.75 L390.7,732.13 M105.3,597.16 L176.65,665.3 L248,726.37 L319.35,726.32 L390.7,731.76 M105.3,654.87 L176.65,644.88 L248,718.79 L319.35,714.83 L390.7,730.83 M105.3,613.55 L176.65,691.43 L248,687.58 L319.35,720.9 L390.7,730.16 M105.3,689.41 L176.65,659.93 L248,671.38 L319.35,721.7 L390.7,731.48 M105.3,609.93 L176.65,657.72 L248,715.06 L319.35,726.77 L390.7,732.47 M105.3,597.73 L176.65,650.85 L248,726.5 L319.35,726.46 L390.7,732.55 M105.3,615.42 L176.65,689.05 L248,697.52 L319.35,719.22 L390.7,729.58 M105.3,665.73 L176.65,628.46 L248,718.41 L319.35,730.36 L390.7,730.99 M105.3,681.28 L176.65,662.34 L248,672.65 L319.35,728.5 L390.7,730.15 M105.3,688.88 L176.65,655.91 L248,673.84 L319.35,721.81 L390.7,731.03 M105.3,635.61 L176.65,660.62 L248,702.46 L319.35,723.01 L390.7,731.72 M105.3,702.56 L176.65,622.94 L248,708.27 L319.35,729.29 L390.7,731.35 M105.3,661.29 L176.65,646.42 L248,706.65 L319.35,724.27 L390.7,730.06 M105.3,638.92 L176.65,630.81 L248,726.21 L319.35,721.29 L390.7,731.96 M105.3,691.79 L176.65,638.14 L248,679.25 L319.35,722.38 L390.7,732.21 M105.3,613.93 L176.65,674.26 L248,712.46 L319.35,722.07 L390.7,730.76 M105.3,631.03 L176.65,645.32 L248,713.43 L319.35,730.65 L390.7,731.04 M105.3,686.16 L176.65,624.3 L248,720.87 L319.35,729.09 L390.7,731.12 M105.3,646.72 L176.65,677.07 L248,679.8 L319.35,725.18 L390.7,730.51 M105.3,707.44 L176.65,631.64 L248,670.12 L319.35,718.47 L390.7,729.6 M105.3,614.23 L176.65,660.22 L248,718.17 L319.35,727.13 L390.7,731 M105.3,656.91 L176.65,628.84 L248,723.58 L319.35,728.39 L390.7,730.78 M105.3,672.28 L176.65,630.73 L248,722.46 L319.35,714.35 L390.7,731.71 M105.3,690.03 L176.65,633.61 L248,693.39 L319.35,723.56 L390.7,731.3 M105.3,634.49 L176.65,682.51 L248,689.2 L319.35,713.03 L390.7,731.99 M105.3,685.78 L176.65,639.75 L248,697.76 L319.35,713.27 L390.7,732.12 M105.3,645.67 L176.65,657.6 L248,702.03 L319.35,716.22 L390.7,732.25 M105.3,668.37 L176.65,629.21 L248,713.71 L319.35,730.67 L390.7,731.22 M105.3,619.65 L176.65,673.55 L248,695.03 L319.35,732.22 L390.7,729.13 M105.3,703.76 L176.65,633.31 L248,692.24 L319.35,713 L390.7,729.25 M105.3,667.17 L176.65,661.78 L248,694.21 L319.35,714.06 L390.7,730.84 M105.3,631.82 L176.65,686.68 L248,676.85 L319.35,727.86 L390.7,729.95 M105.3,685.39 L176.65,628.51 L248,710.17 L319.35,725.63 L390.7,731.31 M105.3,638.52 L176.65,666.35 L248,700.53 L319.35,722.78 L390.7,730.47 M105.3,672.14 L176.65,650.93 L248,709.28 L319.35,715.19 L390.7,729.38" fill="none" stroke="#b3b3b3" stroke-width="0.9" stroke-linejoin="round"/><path d="M87.6,541 V741.2 H409.3" fill="none" stroke="#000" stroke-width="2"/><path d="M83.4,732.6 H87.6 M83.4,714.4 H87.6 M83.4,696.2 H87.6 M83.4,678 H87.6 M83.4,659.8 H87.6 M83.4,641.6 H87.6 M83.4,623.4 H87.6 M83.4,605.2 H87.6 M83.4,587 H87.6 M83.4,568.8 H87.6 M83.4,550.6 H87.6 M105.3,741.2 V745.7 M176.65,741.2 V745.7 M248,741.2 V745.7 M319.35,741.2 V745.7 M390.7,741.2 V745.7" stroke="#000" stroke-width="2"/><path d="M105.3,639.42 L113.3,650.52 L105.3,661.62 L97.3,650.52Z" fill="none" stroke="#000" stroke-width="3.7" stroke-miterlimit="10"/><path d="M176.65,649.25 L184.65,660.35 L176.65,671.45 L168.65,660.35Z" fill="none" stroke="#000" stroke-width="3.7" stroke-miterlimit="10"/><path d="M248,698.02 L256,709.12 L248,720.22 L240,709.12Z" fill="none" stroke="#000" stroke-width="3.7" stroke-miterlimit="10"/><path d="M319.35,717.5 L327.35,728.6 L319.35,739.7 L311.35,728.6Z" fill="none" stroke="#000" stroke-width="3.7" stroke-miterlimit="10"/><path d="M390.7,720.95 L398.7,732.05 L390.7,743.15 L382.7,732.05Z" fill="none" stroke="#000" stroke-width="3.7" stroke-miterlimit="10"/><path d="M105.3,650.52 L176.65,660.35 L248,709.12 L319.35,728.6 L390.7,732.05" fill="none" stroke="#dc0a0a" stroke-width="4" stroke-linejoin="round"/><circle cx="105.3" cy="650.52" r="6.5" fill="#f70000"/><circle cx="176.65" cy="660.35" r="6.5" fill="#f70000"/><circle cx="248" cy="709.12" r="6.5" fill="#f70000"/><circle cx="319.35" cy="728.6" r="6.5" fill="#f70000"/><circle cx="390.7" cy="732.05" r="6.5" fill="#f70000"/><text transform="translate(77.1,741.5) scale(1.0,1)" text-anchor="end" font-size="25.0">0</text><text transform="translate(77.1,705.1) scale(1.0,1)" text-anchor="end" font-size="25.0">0.2</text><text transform="translate(77.1,668.7) scale(1.0,1)" text-anchor="end" font-size="25.0">0.4</text><text transform="translate(77.1,632.3) scale(1.0,1)" text-anchor="end" font-size="25.0">0.6</text><text transform="translate(77.1,595.9) scale(1.0,1)" text-anchor="end" font-size="25.0">0.8</text><text transform="translate(77.1,559.5) scale(1.0,1)" text-anchor="end" font-size="25.0">1</text><text transform="translate(104.3,775.2) scale(1.0,1)" text-anchor="middle" font-size="25.0">0</text><text transform="translate(175.65,775.2) scale(1.0,1)" text-anchor="middle" font-size="25.0">1</text><text transform="translate(247,775.2) scale(1.0,1)" text-anchor="middle" font-size="25.0">2</text><text transform="translate(318.35,775.2) scale(1.0,1)" text-anchor="middle" font-size="25.0">3</text><text transform="translate(389.7,775.2) scale(1.0,1)" text-anchor="middle" font-size="25.0">4</text><text transform="translate(28.8,643) rotate(-90)" text-anchor="middle" font-size="28.2">Occupancy</text><text transform="translate(413.6,558) scale(1.04,1)" text-anchor="end" font-size="24.0">300 nM fcAMP</text><text transform="translate(413.6,588) scale(1.04,1)" text-anchor="end" font-size="24.0"><tspan font-style="italic">n</tspan> = 135, <tspan font-style="italic">m</tspan> = 395,072</text><text transform="translate(413.6,618) scale(1.04,1)" text-anchor="end" font-size="24.0"><tspan font-style="italic">P</tspan><tspan dx="-2"> </tspan>= 0.18</text></g><g><path d="M105.3,960.37 L176.65,897.41 L248,955.87 L319.35,977.81 L390.7,991.68 M105.3,939.77 L176.65,906.65 L248,973.13 L319.35,974.74 L390.7,991.29 M105.3,927.2 L176.65,908.65 L248,965.94 L319.35,987.24 L390.7,991.76 M105.3,938.94 L176.65,907.39 L248,954.81 L319.35,987.93 L390.7,991.89 M105.3,928.92 L176.65,923.4 L248,948.05 L319.35,976.57 L390.7,994.76 M105.3,904.05 L176.65,913.72 L248,978.3 L319.35,986.15 L390.7,994.38 M105.3,948.96 L176.65,888.67 L248,980.7 L319.35,985.27 L390.7,992.9 M105.3,957.13 L176.65,912.15 L248,929.59 L319.35,990.66 L390.7,992.35 M105.3,959.42 L176.65,914.34 L248,941.21 L319.35,975.92 L390.7,990.46 M105.3,905.4 L176.65,929.8 L248,947.74 L319.35,993.59 L390.7,993.39 M105.3,914.22 L176.65,897.17 L248,982.68 L319.35,985.09 L390.7,992.96 M105.3,914.76 L176.65,896.22 L248,982.4 L319.35,988.52 L390.7,992.16 M105.3,938.35 L176.65,892.89 L248,980.41 L319.35,983.99 L390.7,991.24 M105.3,903.29 L176.65,926.25 L248,978.34 L319.35,981.2 L390.7,992.26 M105.3,927.87 L176.65,894.12 L248,975.29 L319.35,993.34 L390.7,991.1 M105.3,898.85 L176.65,941 L248,964.56 L319.35,988.35 L390.7,992.39 M105.3,906.42 L176.65,909.47 L248,981.89 L319.35,985.86 L390.7,991.43 M105.3,916.93 L176.65,938.8 L248,942.84 L319.35,978.84 L390.7,992.4 M105.3,932.19 L176.65,917.07 L248,943.41 L319.35,989.55 L390.7,993.1 M105.3,933.88 L176.65,916.39 L248,958.11 L319.35,982.27 L390.7,991.22 M105.3,920.08 L176.65,925.12 L248,977.41 L319.35,970.6 L390.7,992.58 M105.3,935.18 L176.65,896.7 L248,939.78 L319.35,994.63 L390.7,994.87 M105.3,956.68 L176.65,911.46 L248,935.28 L319.35,989.82 L390.7,990.1 M105.3,952.28 L176.65,893.73 L248,967.77 L319.35,987.45 L390.7,990.9 M105.3,968.43 L176.65,891.03 L248,929.16 L319.35,988.93 L390.7,991.93 M105.3,925.39 L176.65,922.94 L248,943.39 L319.35,991.15 L390.7,991.76 M105.3,932.98 L176.65,934.94 L248,929.54 L319.35,983.98 L390.7,994.46 M105.3,917.78 L176.65,911.75 L248,976.81 L319.35,972.59 L390.7,994.85 M105.3,921.93 L176.65,923.25 L248,942.07 L319.35,989.04 L390.7,994.39 M105.3,906.98 L176.65,933.63 L248,968.35 L319.35,979.12 L390.7,991.85 M105.3,925.39 L176.65,928.19 L248,937.14 L319.35,989.62 L390.7,993.21 M105.3,920.4 L176.65,906.36 L248,980.13 L319.35,973.07 L390.7,994.29 M105.3,964.64 L176.65,891.18 L248,964.59 L319.35,978.61 L390.7,990.35 M105.3,967.41 L176.65,887.75 L248,966.98 L319.35,972.01 L390.7,994.62 M105.3,924.53 L176.65,939.01 L248,939.99 L319.35,975.65 L390.7,992.16 M105.3,928.99 L176.65,914.59 L248,974.45 L319.35,973.06 L390.7,992.02 M105.3,915.25 L176.65,941.15 L248,976.32 L319.35,969.79 L390.7,990.39 M105.3,907.37 L176.65,946.16 L248,925.3 L319.35,993.22 L390.7,992.87 M105.3,946.03 L176.65,942.97 L248,931.29 L319.35,970.49 L390.7,991.26 M105.3,948.88 L176.65,894.96 L248,971.21 L319.35,978.72 L390.7,993.59 M105.3,945.04 L176.65,935.39 L248,928.19 L319.35,982.81 L390.7,992.63 M105.3,914.84 L176.65,922.37 L248,958.95 L319.35,985.08 L390.7,993.96 M105.3,897.05 L176.65,930.85 L248,981.19 L319.35,992.78 L390.7,992.68 M105.3,899.08 L176.65,924.36 L248,976.63 L319.35,994.07 L390.7,990.9 M105.3,907.09 L176.65,937.57 L248,937.7 L319.35,991.84 L390.7,993.77 M105.3,927.19 L176.65,928.33 L248,958.93 L319.35,974.94 L390.7,991.51 M105.3,897.55 L176.65,930.49 L248,983.71 L319.35,981.94 L390.7,992.99 M105.3,920.96 L176.65,932.94 L248,944.24 L319.35,986.18 L390.7,991.12 M105.3,908.72 L176.65,911.11 L248,962.29 L319.35,994.06 L390.7,993.41 M105.3,963.11 L176.65,905.31 L248,944.46 L319.35,973.67 L390.7,991.24 M105.3,917.16 L176.65,944.27 L248,926.85 L319.35,979.67 L390.7,994.92 M105.3,941.22 L176.65,890.19 L248,970.72 L319.35,994.38 L390.7,991.04 M105.3,946.77 L176.65,923.1 L248,927.76 L319.35,993.98 L390.7,990.83 M105.3,946.51 L176.65,906.9 L248,979.47 L319.35,970.14 L390.7,991.33 M105.3,910.21 L176.65,923.72 L248,965.24 L319.35,991.65 L390.7,990.25 M105.3,900.13 L176.65,946.35 L248,932.87 L319.35,981.16 L390.7,994.55 M105.3,949.74 L176.65,905.92 L248,953.61 L319.35,981.34 L390.7,991.9 M105.3,958.59 L176.65,895.2 L248,938.06 L319.35,989.78 L390.7,994.68 M105.3,924.93 L176.65,931.06 L248,946.35 L319.35,972.2 L390.7,995 M105.3,906.43 L176.65,939.72 L248,946.44 L319.35,986.9 L390.7,992.06 M105.3,944.47 L176.65,897.72 L248,973.9 L319.35,976.14 L390.7,993.27 M105.3,916.09 L176.65,924.99 L248,968.8 L319.35,977.82 L390.7,991.99 M105.3,918.23 L176.65,935.23 L248,964.27 L319.35,972.01 L390.7,991.62 M105.3,950.61 L176.65,897.76 L248,970.65 L319.35,975.12 L390.7,992.97 M105.3,903.93 L176.65,927.63 L248,976.67 L319.35,977.96 L390.7,993.64 M105.3,899.77 L176.65,937.13 L248,969.37 L319.35,988.1 L390.7,992.28 M105.3,924.4 L176.65,894.43 L248,984.08 L319.35,975.53 L390.7,992.6 M105.3,910.35 L176.65,904.87 L248,976.38 L319.35,990.36 L390.7,993.61 M105.3,909.19 L176.65,895.34 L248,985.18 L319.35,975.62 L390.7,993.74 M105.3,912.12 L176.65,945.62 L248,930.57 L319.35,976.41 L390.7,992.52 M105.3,928.88 L176.65,924.91 L248,932.63 L319.35,992.25 L390.7,993.93 M105.3,903.24 L176.65,946.7 L248,931.2 L319.35,975.78 L390.7,993.49 M105.3,952.68 L176.65,917.84 L248,944.12 L319.35,975.08 L390.7,991.8 M105.3,902.58 L176.65,937.9 L248,969.58 L319.35,984.26 L390.7,990.3 M105.3,968.09 L176.65,894.88 L248,936.48 L319.35,972.66 L390.7,992.67 M105.3,959.71 L176.65,905.39 L248,939.49 L319.35,987.43 L390.7,990.12 M105.3,931.95 L176.65,910.28 L248,977.03 L319.35,973.72 L390.7,990.87 M105.3,965.07 L176.65,901.32 L248,930.63 L319.35,983.78 L390.7,993.16 M105.3,904.24 L176.65,916.14 L248,977.36 L319.35,982.4 L390.7,994.78 M105.3,942.43 L176.65,894.05 L248,980.84 L319.35,977.94 L390.7,990.95 M105.3,958.23 L176.65,914.42 L248,951.86 L319.35,972.31 L390.7,990.29 M105.3,967.85 L176.65,909.52 L248,929.25 L319.35,977.92 L390.7,989.73 M105.3,952.08 L176.65,906.64 L248,950.92 L319.35,977.49 L390.7,993.21 M105.3,961.42 L176.65,887.29 L248,974.66 L319.35,986.69 L390.7,994.13 M105.3,908.65 L176.65,919.2 L248,972.51 L319.35,976.18 L390.7,994.98 M105.3,947.09 L176.65,941.52 L248,927.05 L319.35,979.05 L390.7,990.44 M105.3,931.54 L176.65,889.37 L248,982.73 L319.35,991.97 L390.7,990.93 M105.3,954.51 L176.65,886.87 L248,979.48 L319.35,993.71 L390.7,992.03 M105.3,930.23 L176.65,905.1 L248,977.41 L319.35,979.65 L390.7,990.48 M105.3,959.16 L176.65,898.74 L248,955.56 L319.35,986.52 L390.7,989.82 M105.3,907.81 L176.65,941.54 L248,936.32 L319.35,989.79 L390.7,991.97 M105.3,903.94 L176.65,940.88 L248,971.45 L319.35,971.54 L390.7,992.63 M105.3,968.42 L176.65,887.23 L248,936.5 L319.35,993.22 L390.7,992.03 M105.3,956.54 L176.65,900.82 L248,940.14 L319.35,988.66 L390.7,992.83 M105.3,956.14 L176.65,917.39 L248,938.93 L319.35,982.62 L390.7,989.96 M105.3,925.2 L176.65,910.16 L248,981.65 L319.35,971.2 L390.7,991.82 M105.3,961.13 L176.65,916.51 L248,941.22 L319.35,974 L390.7,990.06 M105.3,945.51 L176.65,935.04 L248,943.19 L319.35,970.86 L390.7,991.42 M105.3,900.42 L176.65,943.88 L248,959.63 L319.35,980.43 L390.7,991.08 M105.3,914.62 L176.65,940.78 L248,945.22 L319.35,978 L390.7,991.07 M105.3,935.48 L176.65,917.98 L248,936.82 L319.35,984.16 L390.7,994.97 M105.3,897.89 L176.65,938.31 L248,977.5 L319.35,983.84 L390.7,993.33 M105.3,933.8 L176.65,936.06 L248,930.29 L319.35,980.41 L390.7,994.36 M105.3,910.01 L176.65,947.25 L248,925.37 L319.35,973.35 L390.7,994.55 M105.3,965.1 L176.65,940.55 L248,924.64 L319.35,972.49 L390.7,992.63 M105.3,943.09 L176.65,930.04 L248,938.97 L319.35,972.37 L390.7,994.26 M105.3,944.14 L176.65,896.52 L248,939.79 L319.35,994.55 L390.7,993.78 M105.3,902.26 L176.65,933.77 L248,950.66 L319.35,994.6 L390.7,990.34 M105.3,929.37 L176.65,928.66 L248,957.45 L319.35,977.31 L390.7,990.3 M105.3,907.35 L176.65,925.43 L248,967.99 L319.35,973.81 L390.7,995.07 M105.3,956.66 L176.65,925.62 L248,931.52 L319.35,980.53 L390.7,990.47 M105.3,946.89 L176.65,894.26 L248,982.33 L319.35,972.51 L390.7,990.85 M105.3,966.97 L176.65,888.48 L248,956.88 L319.35,985.18 L390.7,990.72 M105.3,940.33 L176.65,912.12 L248,966.79 L319.35,973.05 L390.7,992.74 M105.3,950.14 L176.65,934.01 L248,929.95 L319.35,982.84 L390.7,990.15 M105.3,964.66 L176.65,886.8 L248,977.55 L319.35,981.66 L390.7,994.03 M105.3,928.18 L176.65,903.85 L248,964.12 L319.35,992.5 L390.7,990.82 M105.3,960.82 L176.65,904.81 L248,930.52 L319.35,989.22 L390.7,993.23 M105.3,934.63 L176.65,910.59 L248,973.71 L319.35,974.46 L390.7,991.17 M105.3,910.95 L176.65,918.49 L248,975.05 L319.35,986.13 L390.7,990.69 M105.3,967.64 L176.65,890.01 L248,954.31 L319.35,979.84 L390.7,989.94 M105.3,969 L176.65,887.89 L248,929.32 L319.35,989.32 L390.7,993.87 M105.3,956.55 L176.65,907.28 L248,962.34 L319.35,974.29 L390.7,989.93 M105.3,936.47 L176.65,935.18 L248,946.59 L319.35,970.16 L390.7,994.68 M105.3,915.45 L176.65,913.49 L248,962.29 L319.35,989.63 L390.7,993.95 M105.3,922.02 L176.65,920.46 L248,964.62 L319.35,979.78 L390.7,992.38 M105.3,898.05 L176.65,941.46 L248,979.44 L319.35,972.88 L390.7,993.99 M105.3,910.6 L176.65,912.59 L248,958.04 L319.35,992.33 L390.7,994.79 M105.3,951.9 L176.65,892.96 L248,979.35 L319.35,974.15 L390.7,991.76 M105.3,957.43 L176.65,915.87 L248,946.51 L319.35,975.82 L390.7,989.97 M105.3,964.2 L176.65,902.44 L248,932.28 L319.35,980.18 L390.7,993.82 M105.3,904.28 L176.65,920.36 L248,981.78 L319.35,981.5 L390.7,990.66 M105.3,922.29 L176.65,919.68 L248,973.83 L319.35,977.52 L390.7,990.26 M105.3,925.92 L176.65,904.23 L248,967.73 L319.35,988 L390.7,993.24 M105.3,937.32 L176.65,943.46 L248,926.34 L319.35,976.52 L390.7,993.67 M105.3,963.42 L176.65,900.25 L248,932.35 L319.35,982.81 L390.7,994.4 M105.3,900.28 L176.65,937.9 L248,967.03 L319.35,979.51 L390.7,994.71 M105.3,953.72 L176.65,917.62 L248,934.03 L319.35,980.85 L390.7,993.27 M105.3,929.43 L176.65,906.19 L248,975.82 L319.35,978.26 L390.7,991.56 M105.3,912.77 L176.65,931.63 L248,964.5 L319.35,978.89 L390.7,991.4 M105.3,933.99 L176.65,915.93 L248,946.63 L319.35,992.71 L390.7,990.04 M105.3,948.12 L176.65,892.88 L248,983.02 L319.35,974.36 L390.7,989.99 M105.3,942.44 L176.65,919.25 L248,951.65 L319.35,980.13 L390.7,990.48 M105.3,898.03 L176.65,941.5 L248,972.83 L319.35,991.71 L390.7,989.85 M105.3,909.65 L176.65,941.85 L248,945.3 L319.35,982.6 L390.7,990.51 M105.3,925.86 L176.65,899.21 L248,978.38 L319.35,989.05 L390.7,990.31 M105.3,963.78 L176.65,896.68 L248,967.13 L319.35,970.37 L390.7,992.56 M105.3,958.97 L176.65,897.98 L248,934.29 L319.35,988.24 L390.7,994.83 M105.3,914.02 L176.65,927.83 L248,975.39 L319.35,972.75 L390.7,991.68 M105.3,940.03 L176.65,931.07 L248,930.49 L319.35,983.43 L390.7,994 M105.3,946.38 L176.65,891.93 L248,984.36 L319.35,974.11 L390.7,989.78 M105.3,951.5 L176.65,904.11 L248,957.53 L319.35,972.63 L390.7,994.72 M105.3,940.04 L176.65,931.58 L248,947.5 L319.35,973.7 L390.7,990.54 M105.3,925.34 L176.65,921.31 L248,950.94 L319.35,983.1 L390.7,993.94 M105.3,912.12 L176.65,932.76 L248,953.76 L319.35,985.06 L390.7,992.07 M105.3,917.49 L176.65,930.74 L248,957.98 L319.35,981.39 L390.7,991.04 M105.3,919.02 L176.65,935.96 L248,935.43 L319.35,986.04 L390.7,993.86 M105.3,918.66 L176.65,874.07 L248,940.5 L319.35,984.18 L390.7,993.28" fill="none" stroke="#b3b3b3" stroke-width="0.9" stroke-linejoin="round"/><path d="M87.6,803.5 V1003.7 H409.3" fill="none" stroke="#000" stroke-width="2"/><path d="M83.4,995.1 H87.6 M83.4,976.9 H87.6 M83.4,958.7 H87.6 M83.4,940.5 H87.6 M83.4,922.3 H87.6 M83.4,904.1 H87.6 M83.4,885.9 H87.6 M83.4,867.7 H87.6 M83.4,849.5 H87.6 M83.4,831.3 H87.6 M83.4,813.1 H87.6 M105.3,1003.7 V1008.2 M176.65,1003.7 V1008.2 M248,1003.7 V1008.2 M319.35,1003.7 V1008.2 M390.7,1003.7 V1008.2" stroke="#000" stroke-width="2"/><path d="M105.3,923.39 L113.3,934.49 L105.3,945.59 L97.3,934.49Z" fill="none" stroke="#000" stroke-width="3.7" stroke-miterlimit="10"/><path d="M176.65,906.83 L184.65,917.93 L176.65,929.03 L168.65,917.93Z" fill="none" stroke="#000" stroke-width="3.7" stroke-miterlimit="10"/><path d="M248,949.06 L256,960.16 L248,971.26 L240,960.16Z" fill="none" stroke="#000" stroke-width="3.7" stroke-miterlimit="10"/><path d="M319.35,975.81 L327.35,986.91 L319.35,998.01 L311.35,986.91Z" fill="none" stroke="#000" stroke-width="3.7" stroke-miterlimit="10"/><path d="M390.7,983.09 L398.7,994.19 L390.7,1005.29 L382.7,994.19Z" fill="none" stroke="#000" stroke-width="3.7" stroke-miterlimit="10"/><path d="M105.3,934.49 L176.65,917.93 L248,960.16 L319.35,986.91 L390.7,994.19" fill="none" stroke="#dc0a0a" stroke-width="4" stroke-linejoin="round"/><circle cx="105.3" cy="934.49" r="6.5" fill="#f70000"/><circle cx="176.65" cy="917.93" r="6.5" fill="#f70000"/><circle cx="248" cy="960.16" r="6.5" fill="#f70000"/><circle cx="319.35" cy="986.91" r="6.5" fill="#f70000"/><circle cx="390.7" cy="994.19" r="6.5" fill="#f70000"/><text transform="translate(77.1,1004) scale(1.0,1)" text-anchor="end" font-size="25.0">0</text><text transform="translate(77.1,967.6) scale(1.0,1)" text-anchor="end" font-size="25.0">0.2</text><text transform="translate(77.1,931.2) scale(1.0,1)" text-anchor="end" font-size="25.0">0.4</text><text transform="translate(77.1,894.8) scale(1.0,1)" text-anchor="end" font-size="25.0">0.6</text><text transform="translate(77.1,858.4) scale(1.0,1)" text-anchor="end" font-size="25.0">0.8</text><text transform="translate(77.1,822) scale(1.0,1)" text-anchor="end" font-size="25.0">1</text><text transform="translate(104.3,1037.7) scale(1.0,1)" text-anchor="middle" font-size="25.0">0</text><text transform="translate(175.65,1037.7) scale(1.0,1)" text-anchor="middle" font-size="25.0">1</text><text transform="translate(247,1037.7) scale(1.0,1)" text-anchor="middle" font-size="25.0">2</text><text transform="translate(318.35,1037.7) scale(1.0,1)" text-anchor="middle" font-size="25.0">3</text><text transform="translate(389.7,1037.7) scale(1.0,1)" text-anchor="middle" font-size="25.0">4</text><text transform="translate(28.8,905.5) rotate(-90)" text-anchor="middle" font-size="28.2">Occupancy</text><text transform="translate(413.6,820.5) scale(1.04,1)" text-anchor="end" font-size="24.0">500 nM fcAMP</text><text transform="translate(413.6,850.5) scale(1.04,1)" text-anchor="end" font-size="24.0"><tspan font-style="italic">n</tspan> = 157, <tspan font-style="italic">m</tspan> = 456,546</text><text transform="translate(413.6,880.5) scale(1.04,1)" text-anchor="end" font-size="24.0"><tspan font-style="italic">P</tspan><tspan dx="-2"> </tspan>= 0.24</text></g><g><path d="M105.3,1234.38 L176.65,1188.22 L248,1192.4 L319.35,1232.19 L390.7,1252.76 M105.3,1198.29 L176.65,1203.51 L248,1207.17 L319.35,1236.71 L390.7,1251.33 M105.3,1226.55 L176.65,1175.76 L248,1193.48 L319.35,1249.72 L390.7,1252.43 M105.3,1199.43 L176.65,1202.12 L248,1188.51 L319.35,1251.26 L390.7,1253.6 M105.3,1193.68 L176.65,1205.65 L248,1216.01 L319.35,1231.81 L390.7,1253.43 M105.3,1210.84 L176.65,1172.41 L248,1192.62 L319.35,1253.26 L390.7,1256.58 M105.3,1209.83 L176.65,1192.25 L248,1203.25 L319.35,1238.65 L390.7,1254.69 M105.3,1193.49 L176.65,1196.95 L248,1194.01 L319.35,1252.64 L390.7,1254.69 M105.3,1222.11 L176.65,1185.36 L248,1196.86 L319.35,1244.78 L390.7,1251.69 M105.3,1207.03 L176.65,1190.93 L248,1197.02 L319.35,1247.58 L390.7,1254.32 M105.3,1225.48 L176.65,1160.39 L248,1225.42 L319.35,1243.72 L390.7,1252.01 M105.3,1197.42 L176.65,1189.29 L248,1213.15 L319.35,1247.26 L390.7,1251.83 M105.3,1204.74 L176.65,1175.08 L248,1204.72 L319.35,1252.55 L390.7,1252.92 M105.3,1210.66 L176.65,1163.11 L248,1229.11 L319.35,1236.4 L390.7,1250.97 M105.3,1224.82 L176.65,1165.04 L248,1204.84 L319.35,1246.56 L390.7,1257.15 M105.3,1206.25 L176.65,1172.05 L248,1224.5 L319.35,1236.16 L390.7,1255.72 M105.3,1205.59 L176.65,1196.67 L248,1194.41 L319.35,1241.05 L390.7,1257.07 M105.3,1233.45 L176.65,1159.53 L248,1223.94 L319.35,1236.63 L390.7,1253.77 M105.3,1190.4 L176.65,1195.68 L248,1214.66 L319.35,1250.55 L390.7,1251.45 M105.3,1220.65 L176.65,1182.65 L248,1188.95 L319.35,1251.11 L390.7,1255.22 M105.3,1224.56 L176.65,1161.81 L248,1227.65 L319.35,1236 L390.7,1251.14 M105.3,1222.53 L176.65,1176.41 L248,1204.35 L319.35,1237.91 L390.7,1256.7 M105.3,1211.56 L176.65,1173.56 L248,1208.21 L319.35,1249.06 L390.7,1254.21 M105.3,1222.91 L176.65,1190.57 L248,1188.24 L319.35,1249.73 L390.7,1251.83 M105.3,1215.47 L176.65,1186.74 L248,1201.05 L319.35,1247.68 L390.7,1250.74 M105.3,1232.11 L176.65,1165.04 L248,1204.82 L319.35,1247.16 L390.7,1251.18 M105.3,1212.29 L176.65,1171.5 L248,1222.39 L319.35,1240.12 L390.7,1252.01 M105.3,1204.23 L176.65,1178.21 L248,1225.78 L319.35,1232.73 L390.7,1255.26 M105.3,1224.51 L176.65,1169.13 L248,1203.88 L319.35,1246.22 L390.7,1255.32 M105.3,1218.38 L176.65,1190 L248,1207.39 L319.35,1232.79 L390.7,1255.47 M105.3,1195.6 L176.65,1205.64 L248,1206.04 L319.35,1232.03 L390.7,1256.76 M105.3,1235.07 L176.65,1166.41 L248,1206.05 L319.35,1237.17 L390.7,1250.99 M105.3,1217.04 L176.65,1183.11 L248,1208.81 L319.35,1236.92 L390.7,1254.49 M105.3,1191.16 L176.65,1200.32 L248,1216.46 L319.35,1245.65 L390.7,1250.78 M105.3,1234.87 L176.65,1162.86 L248,1218.33 L319.35,1239.94 L390.7,1250.35 M105.3,1219.09 L176.65,1161.6 L248,1219.32 L319.35,1252.02 L390.7,1251.3 M105.3,1207.77 L176.65,1195.73 L248,1195.25 L319.35,1247.09 L390.7,1252.23 M105.3,1217.97 L176.65,1159.75 L248,1226.61 L319.35,1246.51 L390.7,1254.7 M105.3,1234.01 L176.65,1166.03 L248,1197.83 L319.35,1245.33 L390.7,1252.24 M105.3,1210.31 L176.65,1160.37 L248,1225.4 L319.35,1250.57 L390.7,1254.81 M105.3,1201.49 L176.65,1177.75 L248,1228.81 L319.35,1231.02 L390.7,1254.35 M105.3,1190.83 L176.65,1189.62 L248,1225.54 L319.35,1239.34 L390.7,1253.61 M105.3,1211.54 L176.65,1178.86 L248,1221.08 L319.35,1237.69 L390.7,1251.13 M105.3,1207.22 L176.65,1177.71 L248,1212.03 L319.35,1245.2 L390.7,1254.99 M105.3,1197.94 L176.65,1195.76 L248,1209.87 L319.35,1236 L390.7,1257.02 M105.3,1235.2 L176.65,1173.19 L248,1208.59 L319.35,1231.5 L390.7,1251.43 M105.3,1220.87 L176.65,1171.96 L248,1212.74 L319.35,1235.66 L390.7,1257.12 M105.3,1223.52 L176.65,1192.15 L248,1186.42 L319.35,1248.6 L390.7,1255.05 M105.3,1189.48 L176.65,1207.51 L248,1216.11 L319.35,1241.74 L390.7,1250.34 M105.3,1223.11 L176.65,1168.28 L248,1194.28 L319.35,1249.56 L390.7,1257.46 M105.3,1196.48 L176.65,1201.26 L248,1208.43 L319.35,1237.58 L390.7,1253.64 M105.3,1220.76 L176.65,1165.91 L248,1209.9 L319.35,1244.94 L390.7,1257.13 M105.3,1219.59 L176.65,1209.79 L248,1184.33 L319.35,1231.21 L390.7,1251.46 M105.3,1196.85 L176.65,1209.11 L248,1186.93 L319.35,1237.99 L390.7,1253.47 M105.3,1205.23 L176.65,1173.24 L248,1224.36 L319.35,1242.2 L390.7,1251.21 M105.3,1227.57 L176.65,1191.39 L248,1216.61 L319.35,1230.82 L390.7,1250.71 M105.3,1211.64 L176.65,1200.89 L248,1198.95 L319.35,1232.1 L390.7,1256.86 M105.3,1221.05 L176.65,1201.57 L248,1192.9 L319.35,1234.91 L390.7,1251.57 M105.3,1192.61 L176.65,1180.28 L248,1222.54 L319.35,1246.24 L390.7,1255.56 M105.3,1227.71 L176.65,1173.21 L248,1206.47 L319.35,1239.26 L390.7,1253.02 M105.3,1207.22 L176.65,1191.76 L248,1216.3 L319.35,1233.16 L390.7,1254.08 M105.3,1227.6 L176.65,1167.14 L248,1189.01 L319.35,1253.51 L390.7,1252.83 M105.3,1210.31 L176.65,1164.71 L248,1229.03 L319.35,1234.12 L390.7,1251.39 M105.3,1212.47 L176.65,1201.93 L248,1185.62 L319.35,1251.27 L390.7,1251.81 M105.3,1235.33 L176.65,1179.4 L248,1196.91 L319.35,1232.4 L390.7,1251.6 M105.3,1205.1 L176.65,1167.8 L248,1220.15 L319.35,1247.8 L390.7,1255.56 M105.3,1216.32 L176.65,1166.16 L248,1198.54 L319.35,1253.62 L390.7,1251.71 M105.3,1187.38 L176.65,1207.09 L248,1209.84 L319.35,1248.99 L390.7,1253.54 M105.3,1213.06 L176.65,1176.31 L248,1207.4 L319.35,1250.08 L390.7,1251.19 M105.3,1197.75 L176.65,1162.23 L248,1228.56 L319.35,1247.56 L390.7,1253.82 M105.3,1234.98 L176.65,1183.19 L248,1196.75 L319.35,1232.81 L390.7,1250.75 M105.3,1219.67 L176.65,1197.07 L248,1191.89 L319.35,1238.21 L390.7,1254.33 M105.3,1187.58 L176.65,1208.29 L248,1199.27 L319.35,1249.53 L390.7,1253.96 M105.3,1222.52 L176.65,1167.11 L248,1209.3 L319.35,1248.54 L390.7,1253.03 M105.3,1190.74 L176.65,1200.89 L248,1190.37 L319.35,1253.62 L390.7,1252.52 M105.3,1222.27 L176.65,1192.97 L248,1202.1 L319.35,1233.84 L390.7,1252.47 M105.3,1191.99 L176.65,1180.05 L248,1225.54 L319.35,1250.19 L390.7,1250.56 M105.3,1235.82 L176.65,1170.75 L248,1192.29 L319.35,1237.08 L390.7,1253.37 M105.3,1197.48 L176.65,1195.47 L248,1195.76 L319.35,1250.47 L390.7,1255.2 M105.3,1212.64 L176.65,1200.13 L248,1206.44 L319.35,1233.55 L390.7,1250.96 M105.3,1233.09 L176.65,1196.3 L248,1187.4 L319.35,1235.42 L390.7,1251.46 M105.3,1203.55 L176.65,1172.17 L248,1208.96 L319.35,1252.46 L390.7,1253.47 M105.3,1230.09 L176.65,1187.04 L248,1209.37 L319.35,1231.7 L390.7,1250.89 M105.3,1227.29 L176.65,1182.45 L248,1209.8 L319.35,1233.05 L390.7,1252.01 M105.3,1218.24 L176.65,1169.65 L248,1213.73 L319.35,1238.33 L390.7,1257.22 M105.3,1207.61 L176.65,1204.54 L248,1184.84 L319.35,1250.78 L390.7,1254.5 M105.3,1229.71 L176.65,1167.43 L248,1221.08 L319.35,1232.37 L390.7,1253.67 M105.3,1222.11 L176.65,1169.31 L248,1211.66 L319.35,1239.86 L390.7,1256.47 M105.3,1193.06 L176.65,1194.47 L248,1226.73 L319.35,1231.18 L390.7,1256.48 M105.3,1228.99 L176.65,1165.7 L248,1203.27 L319.35,1241.91 L390.7,1257.21 M105.3,1207.9 L176.65,1194.93 L248,1197.28 L319.35,1245.22 L390.7,1252.74 M105.3,1213.33 L176.65,1161.36 L248,1227.43 L319.35,1243.24 L390.7,1253.17 M105.3,1223.28 L176.65,1165.71 L248,1225.66 L319.35,1236.75 L390.7,1250.71 M105.3,1226.99 L176.65,1166.95 L248,1221.46 L319.35,1235.91 L390.7,1251.51 M105.3,1197.39 L176.65,1184.59 L248,1217.03 L319.35,1239.52 L390.7,1257.02 M105.3,1188.35 L176.65,1177.85 L248,1229.55 L319.35,1234.75 L390.7,1257.02 M105.3,1209.07 L176.65,1178.89 L248,1193.16 L319.35,1253.12 L390.7,1253.77 M105.3,1206.54 L176.65,1195.68 L248,1185.78 L319.35,1252.43 L390.7,1256.92 M105.3,1210.94 L176.65,1202.59 L248,1186.92 L319.35,1247.12 L390.7,1253.68 M105.3,1200.39 L176.65,1181.73 L248,1210.42 L319.35,1245.91 L390.7,1256.67 M105.3,1226.26 L176.65,1176.72 L248,1193.58 L319.35,1250.08 L390.7,1251.67 M105.3,1234.26 L176.65,1184.28 L248,1189.79 L319.35,1238.34 L390.7,1251.18 M105.3,1201.67 L176.65,1159.88 L248,1225.61 L319.35,1253.18 L390.7,1254.26 M105.3,1222.3 L176.65,1166.32 L248,1208.26 L319.35,1251.07 L390.7,1251.6 M105.3,1191.12 L176.65,1209.25 L248,1188.73 L319.35,1244.98 L390.7,1251.28 M105.3,1224.26 L176.65,1169.65 L248,1221.38 L319.35,1233.4 L390.7,1254.08 M105.3,1202.43 L176.65,1164.19 L248,1224.13 L319.35,1247.36 L390.7,1256.81 M105.3,1198 L176.65,1174.33 L248,1200.7 L319.35,1253.52 L390.7,1255.47 M105.3,1194.76 L176.65,1206.55 L248,1187.04 L319.35,1251.22 L390.7,1253 M105.3,1201.08 L176.65,1205.33 L248,1192.89 L319.35,1240.69 L390.7,1252.7 M105.3,1213.61 L176.65,1192.52 L248,1211.21 L319.35,1234 L390.7,1252.09 M105.3,1219.01 L176.65,1188.72 L248,1185.59 L319.35,1252.98 L390.7,1253.93 M105.3,1220.87 L176.65,1191.19 L248,1202.49 L319.35,1236.14 L390.7,1251.78 M105.3,1226.58 L176.65,1160.45 L248,1213.27 L319.35,1250.74 L390.7,1255.61 M105.3,1214.91 L176.65,1171.89 L248,1203.36 L319.35,1251.39 L390.7,1253.18" fill="none" stroke="#b3b3b3" stroke-width="0.9" stroke-linejoin="round"/><path d="M87.6,1066 V1266.2 H409.3" fill="none" stroke="#000" stroke-width="2"/><path d="M83.4,1257.6 H87.6 M83.4,1239.4 H87.6 M83.4,1221.2 H87.6 M83.4,1203 H87.6 M83.4,1184.8 H87.6 M83.4,1166.6 H87.6 M83.4,1148.4 H87.6 M83.4,1130.2 H87.6 M83.4,1112 H87.6 M83.4,1093.8 H87.6 M83.4,1075.6 H87.6 M105.3,1266.2 V1270.7 M176.65,1266.2 V1270.7 M248,1266.2 V1270.7 M319.35,1266.2 V1270.7 M390.7,1266.2 V1270.7" stroke="#000" stroke-width="2"/><path d="M105.3,1202.27 L113.3,1213.37 L105.3,1224.47 L97.3,1213.37Z" fill="none" stroke="#000" stroke-width="3.7" stroke-miterlimit="10"/><path d="M176.65,1171.7 L184.65,1182.8 L176.65,1193.9 L168.65,1182.8Z" fill="none" stroke="#000" stroke-width="3.7" stroke-miterlimit="10"/><path d="M248,1199.18 L256,1210.28 L248,1221.38 L240,1210.28Z" fill="none" stroke="#000" stroke-width="3.7" stroke-miterlimit="10"/><path d="M319.35,1232.85 L327.35,1243.95 L319.35,1255.05 L311.35,1243.95Z" fill="none" stroke="#000" stroke-width="3.7" stroke-miterlimit="10"/><path d="M390.7,1245.04 L398.7,1256.14 L390.7,1267.24 L382.7,1256.14Z" fill="none" stroke="#000" stroke-width="3.7" stroke-miterlimit="10"/><path d="M105.3,1213.37 L176.65,1182.8 L248,1210.28 L319.35,1243.95 L390.7,1256.14" fill="none" stroke="#dc0a0a" stroke-width="4" stroke-linejoin="round"/><circle cx="105.3" cy="1213.37" r="6.5" fill="#f70000"/><circle cx="176.65" cy="1182.8" r="6.5" fill="#f70000"/><circle cx="248" cy="1210.28" r="6.5" fill="#f70000"/><circle cx="319.35" cy="1243.95" r="6.5" fill="#f70000"/><circle cx="390.7" cy="1256.14" r="6.5" fill="#f70000"/><text transform="translate(77.1,1266.5) scale(1.0,1)" text-anchor="end" font-size="25.0">0</text><text transform="translate(77.1,1230.1) scale(1.0,1)" text-anchor="end" font-size="25.0">0.2</text><text transform="translate(77.1,1193.7) scale(1.0,1)" text-anchor="end" font-size="25.0">0.4</text><text transform="translate(77.1,1157.3) scale(1.0,1)" text-anchor="end" font-size="25.0">0.6</text><text transform="translate(77.1,1120.9) scale(1.0,1)" text-anchor="end" font-size="25.0">0.8</text><text transform="translate(77.1,1084.5) scale(1.0,1)" text-anchor="end" font-size="25.0">1</text><text transform="translate(104.3,1300.2) scale(1.0,1)" text-anchor="middle" font-size="25.0">0</text><text transform="translate(175.65,1300.2) scale(1.0,1)" text-anchor="middle" font-size="25.0">1</text><text transform="translate(247,1300.2) scale(1.0,1)" text-anchor="middle" font-size="25.0">2</text><text transform="translate(318.35,1300.2) scale(1.0,1)" text-anchor="middle" font-size="25.0">3</text><text transform="translate(389.7,1300.2) scale(1.0,1)" text-anchor="middle" font-size="25.0">4</text><text transform="translate(28.8,1168) rotate(-90)" text-anchor="middle" font-size="28.2">Occupancy</text><text transform="translate(413.6,1083) scale(1.04,1)" text-anchor="end" font-size="24.0">700 nM fcAMP</text><text transform="translate(402.4,1113) scale(1.04,1)" text-anchor="end" font-size="24.0"><tspan font-style="italic">n</tspan> = 115, <tspan font-style="italic">m</tspan> = 456,546</text><text transform="translate(413.6,1143) scale(1.04,1)" text-anchor="end" font-size="24.0"><tspan font-style="italic">P</tspan><tspan dx="-2"> </tspan>= 0.30</text></g><g><path d="M105.3,1455.65 L176.65,1479.16 L248,1454.62 L319.35,1511.76 L390.7,1516.98 M105.3,1501.12 L176.65,1482.33 L248,1441.3 L319.35,1499.27 L390.7,1517.74 M105.3,1455.96 L176.65,1479.13 L248,1461.55 L319.35,1504.6 L390.7,1518.62 M105.3,1495.03 L176.65,1427.04 L248,1489.5 L319.35,1498.26 L390.7,1512.08 M105.3,1470.02 L176.65,1450.92 L248,1470.73 L319.35,1511.01 L390.7,1513.4 M105.3,1512.1 L176.65,1424.48 L248,1445.4 L319.35,1515.89 L390.7,1511.38 M105.3,1510.31 L176.65,1461.77 L248,1447.95 L319.35,1493.69 L390.7,1517.18 M105.3,1460.6 L176.65,1423.71 L248,1492.4 L319.35,1511.64 L390.7,1515.09 M105.3,1499.53 L176.65,1482.68 L248,1441.06 L319.35,1505.66 L390.7,1513.89 M105.3,1484.59 L176.65,1478.68 L248,1445.03 L319.35,1504.64 L390.7,1515.27 M105.3,1504.07 L176.65,1472.73 L248,1445.72 L319.35,1502.89 L390.7,1511.41 M105.3,1453.06 L176.65,1444.06 L248,1487.24 L319.35,1512.34 L390.7,1519.65 M105.3,1475.66 L176.65,1465.54 L248,1460.89 L319.35,1506.28 L390.7,1513.36 M105.3,1507.02 L176.65,1456.87 L248,1444.73 L319.35,1506.49 L390.7,1515.54 M105.3,1498.07 L176.65,1457.81 L248,1466.45 L319.35,1493 L390.7,1518.46 M105.3,1490.83 L176.65,1475.03 L248,1468.92 L319.35,1491.54 L390.7,1517.03 M105.3,1496.2 L176.65,1444.28 L248,1449.09 L319.35,1513.48 L390.7,1515.87 M105.3,1479.9 L176.65,1466.94 L248,1474.77 L319.35,1492.89 L390.7,1517.73 M105.3,1487.26 L176.65,1424.02 L248,1484.81 L319.35,1509.28 L390.7,1516.21 M105.3,1507.47 L176.65,1419.88 L248,1479.17 L319.35,1507.17 L390.7,1518.8 M105.3,1489.18 L176.65,1467.39 L248,1442.69 L319.35,1513.23 L390.7,1518.73 M105.3,1456.17 L176.65,1484.46 L248,1454.92 L319.35,1499.21 L390.7,1517.49 M105.3,1454.64 L176.65,1463.93 L248,1477 L319.35,1514.1 L390.7,1512.14 M105.3,1507.69 L176.65,1469.36 L248,1454.65 L319.35,1492.06 L390.7,1514.89 M105.3,1488.03 L176.65,1419.28 L248,1493.79 L319.35,1503.68 L390.7,1511.46 M105.3,1508.88 L176.65,1423.49 L248,1469.93 L319.35,1509.8 L390.7,1512.28 M105.3,1482.87 L176.65,1435.91 L248,1483.77 L319.35,1502.83 L390.7,1513.55 M105.3,1494.17 L176.65,1462.19 L248,1467.42 L319.35,1496.24 L390.7,1512.02 M105.3,1454.37 L176.65,1472.98 L248,1454.26 L319.35,1515.27 L390.7,1517.79 M105.3,1500.41 L176.65,1419.42 L248,1481.15 L319.35,1509.13 L390.7,1519.97 M105.3,1491.71 L176.65,1473.11 L248,1450.31 L319.35,1504.99 L390.7,1511.42 M105.3,1505.11 L176.65,1455.84 L248,1446.84 L319.35,1496.49 L390.7,1519.99 M105.3,1458.73 L176.65,1467.45 L248,1474.94 L319.35,1499.57 L390.7,1519.59 M105.3,1497.78 L176.65,1420.03 L248,1479.46 L319.35,1513.9 L390.7,1517.55 M105.3,1470.12 L176.65,1436.21 L248,1490.21 L319.35,1497.74 L390.7,1516.05 M105.3,1492.31 L176.65,1421.02 L248,1491.43 L319.35,1498.24 L390.7,1518.67 M105.3,1481.47 L176.65,1478.73 L248,1441.74 L319.35,1512.63 L390.7,1518.03 M105.3,1473.39 L176.65,1450.71 L248,1493.49 L319.35,1491.16 L390.7,1514.63 M105.3,1494.97 L176.65,1429.88 L248,1478.66 L319.35,1499.01 L390.7,1519.34 M105.3,1485.31 L176.65,1469.92 L248,1449.38 L319.35,1501.64 L390.7,1519.02 M105.3,1472.97 L176.65,1454.88 L248,1489.08 L319.35,1492.28 L390.7,1516.4 M105.3,1487.18 L176.65,1466.77 L248,1457.93 L319.35,1493.78 L390.7,1519.9 M105.3,1456.74 L176.65,1468.23 L248,1468.09 L319.35,1510.43 L390.7,1517.55 M105.3,1507.07 L176.65,1429.59 L248,1461.32 L319.35,1503.62 L390.7,1518.44 M105.3,1463.57 L176.65,1475.58 L248,1447.37 L319.35,1514.28 L390.7,1514.32 M105.3,1495.63 L176.65,1419.17 L248,1486.71 L319.35,1512.02 L390.7,1518.59 M105.3,1506.89 L176.65,1421.53 L248,1468.46 L319.35,1512.48 L390.7,1515.98 M105.3,1508.88 L176.65,1446.93 L248,1450.95 L319.35,1503.15 L390.7,1512.85 M105.3,1456.71 L176.65,1474.82 L248,1476.33 L319.35,1501.8 L390.7,1514.8 M105.3,1504.9 L176.65,1423.07 L248,1471.41 L319.35,1512.72 L390.7,1512.57 M105.3,1502.53 L176.65,1459.37 L248,1461.81 L319.35,1493.77 L390.7,1515.43 M105.3,1486.84 L176.65,1481.94 L248,1450.18 L319.35,1492.83 L390.7,1517.16 M105.3,1473.05 L176.65,1479.83 L248,1451.18 L319.35,1498.53 L390.7,1517.27 M105.3,1454.31 L176.65,1445.01 L248,1476.95 L319.35,1515.61 L390.7,1517.33" fill="none" stroke="#b3b3b3" stroke-width="0.9" stroke-linejoin="round"/><path d="M87.6,1328.5 V1528.7 H409.3" fill="none" stroke="#000" stroke-width="2"/><path d="M83.4,1520.1 H87.6 M83.4,1501.9 H87.6 M83.4,1483.7 H87.6 M83.4,1465.5 H87.6 M83.4,1447.3 H87.6 M83.4,1429.1 H87.6 M83.4,1410.9 H87.6 M83.4,1392.7 H87.6 M83.4,1374.5 H87.6 M83.4,1356.3 H87.6 M83.4,1338.1 H87.6 M105.3,1528.7 V1533.2 M176.65,1528.7 V1533.2 M248,1528.7 V1533.2 M319.35,1528.7 V1533.2 M390.7,1528.7 V1533.2" stroke="#000" stroke-width="2"/><path d="M105.3,1469.14 L113.3,1480.24 L105.3,1491.34 L97.3,1480.24Z" fill="none" stroke="#000" stroke-width="3.7" stroke-miterlimit="10"/><path d="M176.65,1440.2 L184.65,1451.3 L176.65,1462.4 L168.65,1451.3Z" fill="none" stroke="#000" stroke-width="3.7" stroke-miterlimit="10"/><path d="M248,1454.95 L256,1466.05 L248,1477.15 L240,1466.05Z" fill="none" stroke="#000" stroke-width="3.7" stroke-miterlimit="10"/><path d="M319.35,1492.44 L327.35,1503.54 L319.35,1514.64 L311.35,1503.54Z" fill="none" stroke="#000" stroke-width="3.7" stroke-miterlimit="10"/><path d="M390.7,1507.18 L398.7,1518.28 L390.7,1529.38 L382.7,1518.28Z" fill="none" stroke="#000" stroke-width="3.7" stroke-miterlimit="10"/><path d="M105.3,1482.06 L176.65,1446.57 L248,1468.05 L319.35,1503.72 L390.7,1518.28" fill="none" stroke="#dc0a0a" stroke-width="4" stroke-linejoin="round"/><circle cx="105.3" cy="1482.06" r="6.5" fill="#f70000"/><circle cx="176.65" cy="1446.57" r="6.5" fill="#f70000"/><circle cx="248" cy="1468.05" r="6.5" fill="#f70000"/><circle cx="319.35" cy="1503.72" r="6.5" fill="#f70000"/><circle cx="390.7" cy="1518.28" r="6.5" fill="#f70000"/><text transform="translate(77.1,1529) scale(1.0,1)" text-anchor="end" font-size="25.0">0</text><text transform="translate(77.1,1492.6) scale(1.0,1)" text-anchor="end" font-size="25.0">0.2</text><text transform="translate(77.1,1456.2) scale(1.0,1)" text-anchor="end" font-size="25.0">0.4</text><text transform="translate(77.1,1419.8) scale(1.0,1)" text-anchor="end" font-size="25.0">0.6</text><text transform="translate(77.1,1383.4) scale(1.0,1)" text-anchor="end" font-size="25.0">0.8</text><text transform="translate(77.1,1347) scale(1.0,1)" text-anchor="end" font-size="25.0">1</text><text transform="translate(104.3,1562.7) scale(1.0,1)" text-anchor="middle" font-size="25.0">0</text><text transform="translate(175.65,1562.7) scale(1.0,1)" text-anchor="middle" font-size="25.0">1</text><text transform="translate(247,1562.7) scale(1.0,1)" text-anchor="middle" font-size="25.0">2</text><text transform="translate(318.35,1562.7) scale(1.0,1)" text-anchor="middle" font-size="25.0">3</text><text transform="translate(389.7,1562.7) scale(1.0,1)" text-anchor="middle" font-size="25.0">4</text><text transform="translate(28.8,1430.5) rotate(-90)" text-anchor="middle" font-size="28.2">Occupancy</text><text transform="translate(413.6,1345.5) scale(1.04,1)" text-anchor="end" font-size="24.0">750 nM fcAMP</text><text transform="translate(413.6,1375.5) scale(1.04,1)" text-anchor="end" font-size="24.0"><tspan font-style="italic">n</tspan> = 54, <tspan font-style="italic">m</tspan> = 147,325</text><text transform="translate(413.6,1405.5) scale(1.04,1)" text-anchor="end" font-size="24.0">p = 0.32</text></g><g><path d="M105.3,1746.31 L176.65,1698.83 L248,1745.09 L319.35,1749.12 L390.7,1779.14 M105.3,1755.78 L176.65,1730.29 L248,1704.31 L319.35,1759.53 L390.7,1774.07 M105.3,1743.67 L176.65,1731.48 L248,1714.57 L319.35,1751.39 L390.7,1780.95 M105.3,1739.32 L176.65,1735.62 L248,1703.74 L319.35,1768.36 L390.7,1772.53 M105.3,1732.89 L176.65,1729.85 L248,1728.36 L319.35,1756.46 L390.7,1775.88 M105.3,1747.52 L176.65,1728.39 L248,1710.2 L319.35,1752.47 L390.7,1781.9 M105.3,1755.63 L176.65,1693.97 L248,1735.76 L319.35,1762.55 L390.7,1779 M105.3,1735.63 L176.65,1705.37 L248,1744.26 L319.35,1749.91 L390.7,1781.11 M105.3,1740.56 L176.65,1704.96 L248,1740.27 L319.35,1752.88 L390.7,1780.56 M105.3,1750.83 L176.65,1734.68 L248,1697.54 L319.35,1771.32 L390.7,1774.75 M105.3,1763.37 L176.65,1705.04 L248,1716.58 L319.35,1749.95 L390.7,1780.85 M105.3,1745.2 L176.65,1703.12 L248,1732.12 L319.35,1758.8 L390.7,1780.89 M105.3,1726.72 L176.65,1707.92 L248,1731.57 L319.35,1770.61 L390.7,1780.19 M105.3,1734.27 L176.65,1697.97 L248,1741.63 L319.35,1765.69 L390.7,1778.3 M105.3,1735.96 L176.65,1729.02 L248,1721.16 L319.35,1762.08 L390.7,1773.53 M105.3,1733.25 L176.65,1732.63 L248,1732.05 L319.35,1750.29 L390.7,1777.77 M105.3,1749.76 L176.65,1700.28 L248,1739.12 L319.35,1751.36 L390.7,1781.31 M105.3,1764.2 L176.65,1710.12 L248,1701.33 L319.35,1763.43 L390.7,1776.26 M105.3,1734.96 L176.65,1734.38 L248,1736.49 L319.35,1747.39 L390.7,1778.29 M105.3,1759.74 L176.65,1692.92 L248,1742.84 L319.35,1751.91 L390.7,1778.91 M105.3,1735.04 L176.65,1698.49 L248,1747.55 L319.35,1747.63 L390.7,1775.9 M105.3,1751.73 L176.65,1730.44 L248,1730.77 L319.35,1747.34 L390.7,1774.16 M105.3,1763.43 L176.65,1690.7 L248,1746.61 L319.35,1749.12 L390.7,1775.78 M105.3,1747.88 L176.65,1734.54 L248,1706.19 L319.35,1751.67 L390.7,1781.53 M105.3,1756.31 L176.65,1692.31 L248,1735.08 L319.35,1768.15 L390.7,1776.31 M105.3,1727.03 L176.65,1691.72 L248,1747.57 L319.35,1763.14 L390.7,1781.71 M105.3,1762.39 L176.65,1704.46 L248,1706.21 L319.35,1763.75 L390.7,1778.19 M105.3,1740.44 L176.65,1724.45 L248,1702.6 L319.35,1770.21 L390.7,1777.79 M105.3,1726.26 L176.65,1717.96 L248,1747.22 L319.35,1748.35 L390.7,1776.79 M105.3,1759.94 L176.65,1728.5 L248,1702.87 L319.35,1756.56 L390.7,1775.87 M105.3,1753.61 L176.65,1713.22 L248,1735.45 L319.35,1749.15 L390.7,1775.31 M105.3,1738.72 L176.65,1694.93 L248,1744.63 L319.35,1757.2 L390.7,1781.23 M105.3,1733.4 L176.65,1707.7 L248,1734.56 L319.35,1768.35 L390.7,1773.4 M105.3,1756.43 L176.65,1705.77 L248,1704.95 L319.35,1770.65 L390.7,1773.12 M105.3,1765.3 L176.65,1691.04 L248,1708.75 L319.35,1770.31 L390.7,1777.66 M105.3,1743.94 L176.65,1725.5 L248,1700.72 L319.35,1770.91 L390.7,1774.18 M105.3,1736.36 L176.65,1713.73 L248,1719.85 L319.35,1769.86 L390.7,1773.24 M105.3,1760.49 L176.65,1726.84 L248,1698.02 L319.35,1769.21 L390.7,1778.24 M105.3,1733.71 L176.65,1709 L248,1729.74 L319.35,1767.05 L390.7,1778.47 M105.3,1727.27 L176.65,1741.37 L248,1722.38 L319.35,1751.21 L390.7,1778.6 M105.3,1758.98 L176.65,1714.12 L248,1718.56 L319.35,1750.67 L390.7,1779.56 M105.3,1752.4 L176.65,1728.35 L248,1699.71 L319.35,1765.63 L390.7,1781.63 M105.3,1741.18 L176.65,1722.59 L248,1726.45 L319.35,1758 L390.7,1774.2 M105.3,1762.65 L176.65,1719.5 L248,1698.34 L319.35,1769.03 L390.7,1777.34 M105.3,1759.6 L176.65,1706.68 L248,1738.71 L319.35,1748.48 L390.7,1772.9 M105.3,1733.7 L176.65,1735.13 L248,1714.85 L319.35,1759.78 L390.7,1776.18 M105.3,1761.19 L176.65,1693.88 L248,1726.43 L319.35,1760.67 L390.7,1781.16" fill="none" stroke="#b3b3b3" stroke-width="0.9" stroke-linejoin="round"/><path d="M87.6,1591 V1791.2 H409.3" fill="none" stroke="#000" stroke-width="2"/><path d="M83.4,1782.6 H87.6 M83.4,1764.4 H87.6 M83.4,1746.2 H87.6 M83.4,1728 H87.6 M83.4,1709.8 H87.6 M83.4,1691.6 H87.6 M83.4,1673.4 H87.6 M83.4,1655.2 H87.6 M83.4,1637 H87.6 M83.4,1618.8 H87.6 M83.4,1600.6 H87.6 M105.3,1791.2 V1795.7 M176.65,1791.2 V1795.7 M248,1791.2 V1795.7 M319.35,1791.2 V1795.7 M390.7,1791.2 V1795.7" stroke="#000" stroke-width="2"/><path d="M105.3,1739.47 L113.3,1750.57 L105.3,1761.67 L97.3,1750.57Z" fill="none" stroke="#000" stroke-width="3.7" stroke-miterlimit="10"/><path d="M176.65,1698.34 L184.65,1709.44 L176.65,1720.54 L168.65,1709.44Z" fill="none" stroke="#000" stroke-width="3.7" stroke-miterlimit="10"/><path d="M248,1715.44 L256,1726.54 L248,1737.64 L240,1726.54Z" fill="none" stroke="#000" stroke-width="3.7" stroke-miterlimit="10"/><path d="M319.35,1751.48 L327.35,1762.58 L319.35,1773.68 L311.35,1762.58Z" fill="none" stroke="#000" stroke-width="3.7" stroke-miterlimit="10"/><path d="M390.7,1768.77 L398.7,1779.87 L390.7,1790.97 L382.7,1779.87Z" fill="none" stroke="#000" stroke-width="3.7" stroke-miterlimit="10"/><path d="M105.3,1748.02 L176.65,1711.07 L248,1727.09 L319.35,1763.49 L390.7,1780.05" fill="none" stroke="#dc0a0a" stroke-width="4" stroke-linejoin="round"/><circle cx="105.3" cy="1748.02" r="6.5" fill="#f70000"/><circle cx="176.65" cy="1711.07" r="6.5" fill="#f70000"/><circle cx="248" cy="1727.09" r="6.5" fill="#f70000"/><circle cx="319.35" cy="1763.49" r="6.5" fill="#f70000"/><circle cx="390.7" cy="1780.05" r="6.5" fill="#f70000"/><text transform="translate(77.1,1791.5) scale(1.0,1)" text-anchor="end" font-size="25.0">0</text><text transform="translate(77.1,1755.1) scale(1.0,1)" text-anchor="end" font-size="25.0">0.2</text><text transform="translate(77.1,1718.7) scale(1.0,1)" text-anchor="end" font-size="25.0">0.4</text><text transform="translate(77.1,1682.3) scale(1.0,1)" text-anchor="end" font-size="25.0">0.6</text><text transform="translate(77.1,1645.9) scale(1.0,1)" text-anchor="end" font-size="25.0">0.8</text><text transform="translate(77.1,1609.5) scale(1.0,1)" text-anchor="end" font-size="25.0">1</text><text transform="translate(104.3,1825.2) scale(1.0,1)" text-anchor="middle" font-size="25.0">0</text><text transform="translate(175.65,1825.2) scale(1.0,1)" text-anchor="middle" font-size="25.0">1</text><text transform="translate(247,1825.2) scale(1.0,1)" text-anchor="middle" font-size="25.0">2</text><text transform="translate(318.35,1825.2) scale(1.0,1)" text-anchor="middle" font-size="25.0">3</text><text transform="translate(389.7,1825.2) scale(1.0,1)" text-anchor="middle" font-size="25.0">4</text><text transform="translate(28.8,1693) rotate(-90)" text-anchor="middle" font-size="28.2">Occupancy</text><text transform="translate(413.6,1608) scale(1.04,1)" text-anchor="end" font-size="24.0">900 nM fcAMP</text><text transform="translate(413.6,1638) scale(1.04,1)" text-anchor="end" font-size="24.0"><tspan font-style="italic">n</tspan> = 47, <tspan font-style="italic">m</tspan> = 158,877</text><text transform="translate(413.6,1668) scale(1.04,1)" text-anchor="end" font-size="24.0">p = 0.34</text></g><g><path d="M592.7,38.35 L664.05,182.12 L735.4,199.32 L806.75,207.34 L878.1,207.6 M592.7,42.65 L664.05,187.51 L735.4,202.16 L806.75,207.57 L878.1,207.6 M592.7,29.43 L664.05,203.52 L735.4,202.12 L806.75,206.69 L878.1,207.6 M592.7,46.64 L664.05,183.35 L735.4,206.14 L806.75,206.4 L878.1,207.6 M592.7,60.64 L664.05,168.92 L735.4,200.36 L806.75,206.74 L878.1,207.6 M592.7,32.82 L664.05,197.87 L735.4,203.41 L806.75,207.34 L878.1,207.6 M592.7,70.57 L664.05,163.27 L735.4,199.5 L806.75,207.36 L878.1,207.6 M592.7,69.58 L664.05,171.19 L735.4,196.13 L806.75,205.96 L878.1,207.6 M592.7,57.85 L664.05,189.44 L735.4,194.94 L806.75,206.84 L878.1,207.6 M592.7,65.01 L664.05,168.31 L735.4,196.15 L806.75,207.31 L878.1,207.6 M592.7,29.41 L664.05,201.47 L735.4,204.74 L806.75,206.49 L878.1,207.6 M592.7,58.56 L664.05,186.38 L735.4,204.11 L806.75,205.92 L878.1,207.6 M592.7,42.79 L664.05,191.32 L735.4,202.27 L806.75,206.53 L878.1,207.6 M592.7,60.92 L664.05,168.94 L735.4,198.85 L806.75,206.45 L878.1,207.6 M592.7,65.16 L664.05,169.86 L735.4,200.68 L806.75,206.15 L878.1,207.6 M592.7,66.07 L664.05,172.83 L735.4,197.55 L806.75,207.28 L878.1,207.6 M592.7,29.93 L664.05,202.65 L735.4,197.87 L806.75,207.12 L878.1,207.6 M592.7,40.79 L664.05,190.34 L735.4,196.6 L806.75,207.54 L878.1,207.6 M592.7,72.88 L664.05,161.44 L735.4,200.76 L806.75,207.31 L878.1,207.6 M592.7,31.23 L664.05,201.39 L735.4,201.45 L806.75,206.11 L878.1,207.6 M592.7,72.92 L664.05,160.43 L735.4,197.61 L806.75,207.13 L878.1,207.6 M592.7,76.13 L664.05,157.5 L735.4,206.18 L806.75,205.88 L878.1,207.6 M592.7,57.84 L664.05,170.2 L735.4,203.1 L806.75,207.25 L878.1,207.6 M592.7,62.8 L664.05,175.68 L735.4,198.24 L806.75,206.81 L878.1,207.6 M592.7,55.73 L664.05,180.87 L735.4,201.13 L806.75,206.08 L878.1,207.6 M592.7,53.11 L664.05,170.51 L735.4,202.12 L806.75,207.25 L878.1,207.6 M592.7,41.07 L664.05,174.28 L735.4,204.98 L806.75,207.14 L878.1,207.6 M592.7,62.34 L664.05,165.84 L735.4,201.66 L806.75,206.27 L878.1,207.6 M592.7,29.02 L664.05,200.68 L735.4,205.56 L806.75,207.29 L878.1,207.6 M592.7,35.26 L664.05,197.31 L735.4,197.47 L806.75,207.2 L878.1,207.6 M592.7,43.56 L664.05,189.41 L735.4,201.07 L806.75,206.96 L878.1,207.6 M592.7,40.15 L664.05,183.28 L735.4,206.28 L806.75,206.79 L878.1,207.6 M592.7,53.75 L664.05,183.42 L735.4,195.88 L806.75,207.28 L878.1,207.6 M592.7,52.76 L664.05,184.26 L735.4,197.4 L806.75,206.9 L878.1,207.6 M592.7,58.05 L664.05,173.95 L735.4,195.72 L806.75,207.51 L878.1,207.6 M592.7,56.11 L664.05,173.07 L735.4,203.29 L806.75,206.74 L878.1,207.6 M592.7,40.96 L664.05,196.02 L735.4,198.03 L806.75,206.57 L878.1,207.6 M592.7,56.45 L664.05,172.35 L735.4,198.36 L806.75,206.16 L878.1,207.6 M592.7,37.76 L664.05,186.15 L735.4,204.75 L806.75,207.46 L878.1,207.6 M592.7,58.41 L664.05,187.59 L735.4,195.14 L806.75,207.14 L878.1,207.6 M592.7,61.04 L664.05,183.82 L735.4,201.77 L806.75,206.07 L878.1,207.6 M592.7,62.23 L664.05,194.27 L735.4,195.49 L806.75,205.92 L878.1,207.6 M592.7,37.05 L664.05,199.89 L735.4,200.14 L806.75,206 L878.1,207.6 M592.7,45.88 L664.05,178.49 L735.4,198.92 L806.75,207.14 L878.1,207.6 M592.7,59.36 L664.05,172.05 L735.4,199.31 L806.75,207.25 L878.1,207.6 M592.7,44.77 L664.05,167.19 L735.4,202.5 L806.75,207.59 L878.1,207.6 M592.7,47.24 L664.05,179.22 L735.4,205.63 L806.75,206.66 L878.1,207.6 M592.7,66.09 L664.05,167.52 L735.4,196.93 L806.75,207.03 L878.1,207.6 M592.7,60.97 L664.05,171.96 L735.4,195.68 L806.75,207 L878.1,207.6 M592.7,64.21 L664.05,184.83 L735.4,195.57 L806.75,205.93 L878.1,207.6 M592.7,56.41 L664.05,185.05 L735.4,195.06 L806.75,206.62 L878.1,207.6 M592.7,55.7 L664.05,180.6 L735.4,201.13 L806.75,205.94 L878.1,207.6 M592.7,69.63 L664.05,161.64 L735.4,199.04 L806.75,207.42 L878.1,207.6 M592.7,60.95 L664.05,179.09 L735.4,195.14 L806.75,207.38 L878.1,207.6 M592.7,51.51 L664.05,173.42 L735.4,201.21 L806.75,207.38 L878.1,207.6 M592.7,51.18 L664.05,188.45 L735.4,196.35 L806.75,206.83 L878.1,207.6 M592.7,35.15 L664.05,180.97 L735.4,205.7 L806.75,207.19 L878.1,207.6 M592.7,36.03 L664.05,194.31 L735.4,206.04 L806.75,206.18 L878.1,207.6 M592.7,60.13 L664.05,179.14 L735.4,201.22 L806.75,206.88 L878.1,207.6 M592.7,52.31 L664.05,179.97 L735.4,198.37 L806.75,207.39 L878.1,207.6 M592.7,38.82 L664.05,184.16 L735.4,201.66 L806.75,207.14 L878.1,207.6 M592.7,34.34 L664.05,192.21 L735.4,206.42 L806.75,206.92 L878.1,207.6 M592.7,63.64 L664.05,174.9 L735.4,195.17 L806.75,206.64 L878.1,207.6 M592.7,29.72 L664.05,202.68 L735.4,206.13 L806.75,206.13 L878.1,207.6 M592.7,40.5 L664.05,195.72 L735.4,195.93 L806.75,206.5 L878.1,207.6 M592.7,51.64 L664.05,189.41 L735.4,202.71 L806.75,205.87 L878.1,207.6 M592.7,67.82 L664.05,171.64 L735.4,197.75 L806.75,206.34 L878.1,207.6 M592.7,65.62 L664.05,183.98 L735.4,195.16 L806.75,206.44 L878.1,207.6 M592.7,31.9 L664.05,197.35 L735.4,206.59 L806.75,206.75 L878.1,207.6 M592.7,40.95 L664.05,174.14 L735.4,202.53 L806.75,207.56 L878.1,207.6 M592.7,32.43 L664.05,201.57 L735.4,196.05 L806.75,206.84 L878.1,207.6 M592.7,75.31 L664.05,160.5 L735.4,195.54 L806.75,206.83 L878.1,207.6 M592.7,53.09 L664.05,190.73 L735.4,196.16 L806.75,205.96 L878.1,207.6 M592.7,71.82 L664.05,162.86 L735.4,200.46 L806.75,205.87 L878.1,207.6 M592.7,48.51 L664.05,178.41 L735.4,203.82 L806.75,206.9 L878.1,207.6 M592.7,52.37 L664.05,176.54 L735.4,200.66 L806.75,206.33 L878.1,207.6 M592.7,72.09 L664.05,159.83 L735.4,203.03 L806.75,207.1 L878.1,207.6" fill="none" stroke="#b3b3b3" stroke-width="0.9" stroke-linejoin="round"/><path d="M575,16 V216.2 H896.7" fill="none" stroke="#000" stroke-width="2"/><path d="M570.8,207.6 H575 M570.8,189.4 H575 M570.8,171.2 H575 M570.8,153 H575 M570.8,134.8 H575 M570.8,116.6 H575 M570.8,98.4 H575 M570.8,80.2 H575 M570.8,62 H575 M570.8,43.8 H575 M570.8,25.6 H575 M592.7,216.2 V220.7 M664.05,216.2 V220.7 M735.4,216.2 V220.7 M806.75,216.2 V220.7 M878.1,216.2 V220.7" stroke="#000" stroke-width="2"/><path d="M592.7,41.07 L600.7,52.17 L592.7,63.27 L584.7,52.17Z" fill="none" stroke="#000" stroke-width="3.7" stroke-miterlimit="10"/><path d="M664.05,170.47 L672.05,181.57 L664.05,192.67 L656.05,181.57Z" fill="none" stroke="#000" stroke-width="3.7" stroke-miterlimit="10"/><path d="M735.4,195.04 L743.4,206.14 L735.4,217.24 L727.4,206.14Z" fill="none" stroke="#000" stroke-width="3.7" stroke-miterlimit="10"/><path d="M806.75,196.5 L814.75,207.6 L806.75,218.7 L798.75,207.6Z" fill="none" stroke="#000" stroke-width="3.7" stroke-miterlimit="10"/><path d="M878.1,196.5 L886.1,207.6 L878.1,218.7 L870.1,207.6Z" fill="none" stroke="#000" stroke-width="3.7" stroke-miterlimit="10"/><path d="M592.7,52.17 L664.05,181.57 L735.4,206.14 L806.75,207.6 L878.1,207.6" fill="none" stroke="#dc0a0a" stroke-width="4" stroke-linejoin="round"/><circle cx="592.7" cy="52.17" r="6.5" fill="#f70000"/><circle cx="664.05" cy="181.57" r="6.5" fill="#f70000"/><circle cx="735.4" cy="206.14" r="6.5" fill="#f70000"/><circle cx="806.75" cy="207.6" r="6.5" fill="#f70000"/><circle cx="878.1" cy="207.6" r="6.5" fill="#f70000"/><text transform="translate(564.5,216.5) scale(1.0,1)" text-anchor="end" font-size="25.0">0</text><text transform="translate(564.5,180.1) scale(1.0,1)" text-anchor="end" font-size="25.0">0.2</text><text transform="translate(564.5,143.7) scale(1.0,1)" text-anchor="end" font-size="25.0">0.4</text><text transform="translate(564.5,107.3) scale(1.0,1)" text-anchor="end" font-size="25.0">0.6</text><text transform="translate(564.5,70.9) scale(1.0,1)" text-anchor="end" font-size="25.0">0.8</text><text transform="translate(564.5,34.5) scale(1.0,1)" text-anchor="end" font-size="25.0">1</text><text transform="translate(591.7,250.2) scale(1.0,1)" text-anchor="middle" font-size="25.0">0</text><text transform="translate(663.05,250.2) scale(1.0,1)" text-anchor="middle" font-size="25.0">1</text><text transform="translate(734.4,250.2) scale(1.0,1)" text-anchor="middle" font-size="25.0">2</text><text transform="translate(805.75,250.2) scale(1.0,1)" text-anchor="middle" font-size="25.0">3</text><text transform="translate(877.1,250.2) scale(1.0,1)" text-anchor="middle" font-size="25.0">4</text><text transform="translate(516.2,118) rotate(-90)" text-anchor="middle" font-size="28.2">Occupancy</text><text transform="translate(901,33) scale(1.04,1)" text-anchor="end" font-size="24.0">100 nM fcAMP</text><text transform="translate(901,63) scale(1.04,1)" text-anchor="end" font-size="24.0"><tspan font-style="italic">n</tspan> = 77, <tspan font-style="italic">m</tspan> = 227,150</text><text transform="translate(901,93) scale(1.04,1)" text-anchor="end" font-size="24.0"><tspan font-style="italic">P</tspan><tspan dx="-2"> </tspan>= 0.04</text></g><g><path d="M592.7,311.28 L664.05,440.02 L735.4,468.8 L806.75,469.57 L878.1,470.1 M592.7,315.52 L664.05,444.98 L735.4,457.5 L806.75,468.83 L878.1,470.1 M592.7,324.46 L664.05,431.67 L735.4,466.35 L806.75,468.87 L878.1,470.1 M592.7,303.5 L664.05,455.5 L735.4,466.03 L806.75,468.87 L878.1,470.1 M592.7,326.69 L664.05,426.78 L735.4,461.04 L806.75,469.87 L878.1,470.1 M592.7,352.05 L664.05,414.94 L735.4,455.4 L806.75,469.56 L878.1,470.1 M592.7,310.12 L664.05,451.83 L735.4,455.99 L806.75,468.77 L878.1,470.1 M592.7,363.05 L664.05,403.71 L735.4,459.1 L806.75,468.63 L878.1,470.1 M592.7,353.18 L664.05,421.28 L735.4,458.4 L806.75,468.84 L878.1,470.1 M592.7,354.01 L664.05,423.09 L735.4,450.79 L806.75,468.39 L878.1,470.1 M592.7,360.58 L664.05,401.9 L735.4,462.56 L806.75,469.95 L878.1,470.1 M592.7,320.76 L664.05,438.74 L735.4,467.76 L806.75,468.58 L878.1,470.1 M592.7,341.87 L664.05,413.62 L735.4,468.08 L806.75,469.77 L878.1,470.1 M592.7,313.78 L664.05,441.72 L735.4,466.88 L806.75,468.32 L878.1,470.1 M592.7,365.78 L664.05,401.81 L735.4,450.52 L806.75,469.6 L878.1,470.1 M592.7,310.91 L664.05,450.91 L735.4,466.63 L806.75,469.06 L878.1,470.1 M592.7,360.3 L664.05,416.62 L735.4,450.14 L806.75,469.74 L878.1,470.1 M592.7,327.96 L664.05,416.93 L735.4,466.46 L806.75,469.98 L878.1,470.1 M592.7,328.42 L664.05,448.05 L735.4,453.26 L806.75,468.52 L878.1,470.1 M592.7,315.16 L664.05,445.22 L735.4,466.31 L806.75,468.51 L878.1,470.1 M592.7,315.65 L664.05,438.62 L735.4,468.82 L806.75,468.61 L878.1,470.1 M592.7,357.58 L664.05,410.51 L735.4,463.64 L806.75,468.91 L878.1,470.1 M592.7,312.76 L664.05,430.21 L735.4,468.59 L806.75,468.64 L878.1,470.1 M592.7,356.78 L664.05,408.98 L735.4,457.37 L806.75,469.81 L878.1,470.1 M592.7,337.89 L664.05,436.88 L735.4,453.87 L806.75,469.23 L878.1,470.1 M592.7,340.34 L664.05,429.21 L735.4,449.82 L806.75,469.33 L878.1,470.1 M592.7,353.93 L664.05,408.75 L735.4,468 L806.75,468.79 L878.1,470.1 M592.7,314.31 L664.05,444.84 L735.4,462.69 L806.75,469.78 L878.1,470.1 M592.7,355.19 L664.05,422.88 L735.4,449.49 L806.75,468.77 L878.1,470.1 M592.7,336.37 L664.05,418.45 L735.4,453.81 L806.75,469.82 L878.1,470.1 M592.7,313.4 L664.05,455.18 L735.4,451.39 L806.75,468.63 L878.1,470.1 M592.7,333.23 L664.05,420.46 L735.4,459.48 L806.75,469.35 L878.1,470.1 M592.7,366.75 L664.05,402.01 L735.4,457.64 L806.75,469 L878.1,470.1 M592.7,365.75 L664.05,405.01 L735.4,449.71 L806.75,468.4 L878.1,470.1 M592.7,318.42 L664.05,451.79 L735.4,453.94 L806.75,468.42 L878.1,470.1 M592.7,353.2 L664.05,411.77 L735.4,460.32 L806.75,469.36 L878.1,470.1 M592.7,330.37 L664.05,430.08 L735.4,461.08 L806.75,469.07 L878.1,470.1 M592.7,333.11 L664.05,411.56 L735.4,469.04 L806.75,470.07 L878.1,470.1 M592.7,325.95 L664.05,425.13 L735.4,465.89 L806.75,469.34 L878.1,470.1 M592.7,363.04 L664.05,404.9 L735.4,462.27 L806.75,468.6 L878.1,470.1 M592.7,311.84 L664.05,437.41 L735.4,467.62 L806.75,469.16 L878.1,470.1 M592.7,313.68 L664.05,453.91 L735.4,451.58 L806.75,468.43 L878.1,470.1 M592.7,346.71 L664.05,425.39 L735.4,452.29 L806.75,469.75 L878.1,470.1" fill="none" stroke="#b3b3b3" stroke-width="0.9" stroke-linejoin="round"/><path d="M575,278.5 V478.7 H896.7" fill="none" stroke="#000" stroke-width="2"/><path d="M570.8,470.1 H575 M570.8,451.9 H575 M570.8,433.7 H575 M570.8,415.5 H575 M570.8,397.3 H575 M570.8,379.1 H575 M570.8,360.9 H575 M570.8,342.7 H575 M570.8,324.5 H575 M570.8,306.3 H575 M570.8,288.1 H575 M592.7,478.7 V483.2 M664.05,478.7 V483.2 M735.4,478.7 V483.2 M806.75,478.7 V483.2 M878.1,478.7 V483.2" stroke="#000" stroke-width="2"/><path d="M592.7,315.95 L600.7,327.05 L592.7,338.15 L584.7,327.05Z" fill="none" stroke="#000" stroke-width="3.7" stroke-miterlimit="10"/><path d="M664.05,422.24 L672.05,433.34 L664.05,444.44 L656.05,433.34Z" fill="none" stroke="#000" stroke-width="3.7" stroke-miterlimit="10"/><path d="M735.4,455.36 L743.4,466.46 L735.4,477.56 L727.4,466.46Z" fill="none" stroke="#000" stroke-width="3.7" stroke-miterlimit="10"/><path d="M806.75,459 L814.75,470.1 L806.75,481.2 L798.75,470.1Z" fill="none" stroke="#000" stroke-width="3.7" stroke-miterlimit="10"/><path d="M878.1,459 L886.1,470.1 L878.1,481.2 L870.1,470.1Z" fill="none" stroke="#000" stroke-width="3.7" stroke-miterlimit="10"/><path d="M592.7,327.05 L664.05,433.34 L735.4,466.46 L806.75,470.1 L878.1,470.1" fill="none" stroke="#dc0a0a" stroke-width="4" stroke-linejoin="round"/><circle cx="592.7" cy="327.05" r="6.5" fill="#f70000"/><circle cx="664.05" cy="433.34" r="6.5" fill="#f70000"/><circle cx="735.4" cy="466.46" r="6.5" fill="#f70000"/><circle cx="806.75" cy="470.1" r="6.5" fill="#f70000"/><circle cx="878.1" cy="470.1" r="6.5" fill="#f70000"/><text transform="translate(564.5,479) scale(1.0,1)" text-anchor="end" font-size="25.0">0</text><text transform="translate(564.5,442.6) scale(1.0,1)" text-anchor="end" font-size="25.0">0.2</text><text transform="translate(564.5,406.2) scale(1.0,1)" text-anchor="end" font-size="25.0">0.4</text><text transform="translate(564.5,369.8) scale(1.0,1)" text-anchor="end" font-size="25.0">0.6</text><text transform="translate(564.5,333.4) scale(1.0,1)" text-anchor="end" font-size="25.0">0.8</text><text transform="translate(564.5,297) scale(1.0,1)" text-anchor="end" font-size="25.0">1</text><text transform="translate(591.7,512.7) scale(1.0,1)" text-anchor="middle" font-size="25.0">0</text><text transform="translate(663.05,512.7) scale(1.0,1)" text-anchor="middle" font-size="25.0">1</text><text transform="translate(734.4,512.7) scale(1.0,1)" text-anchor="middle" font-size="25.0">2</text><text transform="translate(805.75,512.7) scale(1.0,1)" text-anchor="middle" font-size="25.0">3</text><text transform="translate(877.1,512.7) scale(1.0,1)" text-anchor="middle" font-size="25.0">4</text><text transform="translate(516.2,380.5) rotate(-90)" text-anchor="middle" font-size="28.2">Occupancy</text><text transform="translate(901,325.5) scale(1.04,1)" text-anchor="end" font-size="24.0">250 nM fcAMP</text><text transform="translate(901,355.5) scale(1.04,1)" text-anchor="end" font-size="24.0"><tspan font-style="italic">n</tspan> = 43, <tspan font-style="italic">m</tspan> = 125,487</text><text transform="translate(901,385.5) scale(1.04,1)" text-anchor="end" font-size="24.0"><tspan font-style="italic">P</tspan><tspan dx="-2"> </tspan>= 0.06</text></g><g><path d="M592.7,656.57 L664.05,649.82 L735.4,687.7 L806.75,728.02 L878.1,731.91 M592.7,626.23 L664.05,654.67 L735.4,718.79 L806.75,725.28 L878.1,732.49 M592.7,648.92 L664.05,644.9 L735.4,716.15 L806.75,726.38 L878.1,732.43 M592.7,629 L664.05,657.54 L735.4,696.05 L806.75,732.04 L878.1,732.37 M592.7,625.27 L664.05,655.5 L735.4,725.01 L806.75,727.42 L878.1,731.25 M592.7,659.28 L664.05,642.75 L735.4,717.65 L806.75,726.65 L878.1,731.42 M592.7,624.63 L664.05,681.36 L735.4,684.29 L806.75,723.71 L878.1,731.16 M592.7,607.32 L664.05,677.24 L735.4,713.41 L806.75,729.69 L878.1,731.91 M592.7,666.82 L664.05,640.03 L735.4,684.98 L806.75,732.36 L878.1,730.89 M592.7,651.66 L664.05,645.34 L735.4,712.65 L806.75,731.95 L878.1,731.13 M592.7,623.13 L664.05,665.89 L735.4,719.39 L806.75,726.7 L878.1,731.04 M592.7,645.8 L664.05,666.48 L735.4,692.92 L806.75,726.97 L878.1,730.85 M592.7,663.02 L664.05,643.04 L735.4,714.44 L806.75,722.02 L878.1,731.45 M592.7,605.58 L664.05,683.41 L735.4,686.92 L806.75,730.05 L878.1,732.38 M592.7,663.48 L664.05,643.09 L735.4,680.03 L806.75,732.12 L878.1,731.96 M592.7,609.52 L664.05,675.65 L735.4,692.84 L806.75,730.03 L878.1,732.57 M592.7,641.98 L664.05,643.97 L735.4,722.91 L806.75,731.18 L878.1,732.16 M592.7,655.63 L664.05,648.65 L735.4,702.67 L806.75,724.44 L878.1,731.67 M592.7,620.19 L664.05,664.3 L735.4,715.76 L806.75,731.48 L878.1,731.15 M592.7,662.46 L664.05,651.76 L735.4,690.16 L806.75,721.98 L878.1,731.01 M592.7,634.27 L664.05,651.71 L735.4,715.88 L806.75,732.07 L878.1,731.24 M592.7,661.15 L664.05,647.2 L735.4,678.24 L806.75,730.87 L878.1,732.26 M592.7,639.77 L664.05,659.76 L735.4,691.46 L806.75,731.92 L878.1,731.25 M592.7,644.29 L664.05,644.74 L735.4,727.24 L806.75,724.66 L878.1,731.21 M592.7,603.12 L664.05,683.82 L735.4,709.41 L806.75,725.6 L878.1,732.22 M592.7,645.77 L664.05,651.68 L735.4,705.58 L806.75,731.55 L878.1,731.07 M592.7,659.57 L664.05,650.87 L735.4,680.23 L806.75,726.66 L878.1,732.13 M592.7,614.18 L664.05,671.4 L735.4,711.46 L806.75,732.02 L878.1,731.06 M592.7,651.77 L664.05,651.08 L735.4,708.5 L806.75,721.95 L878.1,732.33 M592.7,602.39 L664.05,682.62 L735.4,722.97 L806.75,723.62 L878.1,732.18 M592.7,658.6 L664.05,668.55 L735.4,675.08 L806.75,730.71 L878.1,731.01 M592.7,636.29 L664.05,647.71 L735.4,724.91 L806.75,729.79 L878.1,731.3 M592.7,608.82 L664.05,680.76 L735.4,700.06 L806.75,731.31 L878.1,731.16 M592.7,617.03 L664.05,670.88 L735.4,707.74 L806.75,729.25 L878.1,731.78 M592.7,624.19 L664.05,662.2 L735.4,717.56 L806.75,730.83 L878.1,731.03 M592.7,662.57 L664.05,643.42 L735.4,705.12 L806.75,722.46 L878.1,731.95 M592.7,653.7 L664.05,649.3 L735.4,685.31 L806.75,731.84 L878.1,731.99 M592.7,642.71 L664.05,677.79 L735.4,680.89 L806.75,722.04 L878.1,731.31 M592.7,611.05 L664.05,658.66 L735.4,723.44 L806.75,732.18 L878.1,732.1 M592.7,608.31 L664.05,679.5 L735.4,714.31 L806.75,725.72 L878.1,731.51 M592.7,647.67 L664.05,644.32 L735.4,722.3 L806.75,727.19 L878.1,732.1 M592.7,649.44 L664.05,644.81 L735.4,710.87 L806.75,731.89 L878.1,731.91 M592.7,601.24 L664.05,677.79 L735.4,728.56 L806.75,724.28 L878.1,731.86 M592.7,654.32 L664.05,643.15 L735.4,723.85 L806.75,724.2 L878.1,731.78 M592.7,610.11 L664.05,672.94 L735.4,724.06 L806.75,723.58 L878.1,731.63 M592.7,636.13 L664.05,660.49 L735.4,703.75 L806.75,730.9 L878.1,731.06 M592.7,647.55 L664.05,650.47 L735.4,707.23 L806.75,727.01 L878.1,731.85 M592.7,604.42 L664.05,680.98 L735.4,726.84 L806.75,722.42 L878.1,730.99 M592.7,638.74 L664.05,667.26 L735.4,697.18 L806.75,724.68 L878.1,731.17 M592.7,606.46 L664.05,682.38 L735.4,695.5 L806.75,727.29 L878.1,732.31 M592.7,627.38 L664.05,662.24 L735.4,702.2 L806.75,730.86 L878.1,731.93 M592.7,639.85 L664.05,646.6 L735.4,720.88 L806.75,726.81 L878.1,732.4 M592.7,601.54 L664.05,685.06 L735.4,721.49 L806.75,730.12 L878.1,730.87 M592.7,637.26 L664.05,655.76 L735.4,708.11 L806.75,731.41 L878.1,731.17 M592.7,643.13 L664.05,650.63 L735.4,715.43 L806.75,730.44 L878.1,731.11 M592.7,638.75 L664.05,670.83 L735.4,676.85 L806.75,732.28 L878.1,731.63 M592.7,612.91 L664.05,675.23 L735.4,713.94 L806.75,722.59 L878.1,732.31 M592.7,611.74 L664.05,665.85 L735.4,726.04 L806.75,726.66 L878.1,731.36 M592.7,665.66 L664.05,640.47 L735.4,686.76 L806.75,732.08 L878.1,732.18 M592.7,626.58 L664.05,668.96 L735.4,694.78 L806.75,726.11 L878.1,732.28 M592.7,650.1 L664.05,666.9 L735.4,682.62 L806.75,722.69 L878.1,731.69 M592.7,665.91 L664.05,640.68 L735.4,698.41 L806.75,723.08 L878.1,732.19 M592.7,658.8 L664.05,646.7 L735.4,699.97 L806.75,727.03 L878.1,731.26 M592.7,621.81 L664.05,668.17 L735.4,712.68 L806.75,723.46 L878.1,732.12" fill="none" stroke="#b3b3b3" stroke-width="0.9" stroke-linejoin="round"/><path d="M575,541 V741.2 H896.7" fill="none" stroke="#000" stroke-width="2"/><path d="M570.8,732.6 H575 M570.8,714.4 H575 M570.8,696.2 H575 M570.8,678 H575 M570.8,659.8 H575 M570.8,641.6 H575 M570.8,623.4 H575 M570.8,605.2 H575 M570.8,587 H575 M570.8,568.8 H575 M570.8,550.6 H575 M592.7,741.2 V745.7 M664.05,741.2 V745.7 M735.4,741.2 V745.7 M806.75,741.2 V745.7 M878.1,741.2 V745.7" stroke="#000" stroke-width="2"/><path d="M592.7,617.4 L600.7,628.5 L592.7,639.6 L584.7,628.5Z" fill="none" stroke="#000" stroke-width="3.7" stroke-miterlimit="10"/><path d="M664.05,658.89 L672.05,669.99 L664.05,681.09 L656.05,669.99Z" fill="none" stroke="#000" stroke-width="3.7" stroke-miterlimit="10"/><path d="M735.4,707.85 L743.4,718.95 L735.4,730.05 L727.4,718.95Z" fill="none" stroke="#000" stroke-width="3.7" stroke-miterlimit="10"/><path d="M806.75,720.04 L814.75,731.14 L806.75,742.24 L798.75,731.14Z" fill="none" stroke="#000" stroke-width="3.7" stroke-miterlimit="10"/><path d="M878.1,721.5 L886.1,732.6 L878.1,743.7 L870.1,732.6Z" fill="none" stroke="#000" stroke-width="3.7" stroke-miterlimit="10"/><path d="M592.7,628.5 L664.05,669.99 L735.4,718.95 L806.75,731.14 L878.1,732.6" fill="none" stroke="#dc0a0a" stroke-width="4" stroke-linejoin="round"/><circle cx="592.7" cy="628.5" r="6.5" fill="#f70000"/><circle cx="664.05" cy="669.99" r="6.5" fill="#f70000"/><circle cx="735.4" cy="718.95" r="6.5" fill="#f70000"/><circle cx="806.75" cy="731.14" r="6.5" fill="#f70000"/><circle cx="878.1" cy="732.6" r="6.5" fill="#f70000"/><text transform="translate(564.5,741.5) scale(1.0,1)" text-anchor="end" font-size="25.0">0</text><text transform="translate(564.5,705.1) scale(1.0,1)" text-anchor="end" font-size="25.0">0.2</text><text transform="translate(564.5,668.7) scale(1.0,1)" text-anchor="end" font-size="25.0">0.4</text><text transform="translate(564.5,632.3) scale(1.0,1)" text-anchor="end" font-size="25.0">0.6</text><text transform="translate(564.5,595.9) scale(1.0,1)" text-anchor="end" font-size="25.0">0.8</text><text transform="translate(564.5,559.5) scale(1.0,1)" text-anchor="end" font-size="25.0">1</text><text transform="translate(591.7,775.2) scale(1.0,1)" text-anchor="middle" font-size="25.0">0</text><text transform="translate(663.05,775.2) scale(1.0,1)" text-anchor="middle" font-size="25.0">1</text><text transform="translate(734.4,775.2) scale(1.0,1)" text-anchor="middle" font-size="25.0">2</text><text transform="translate(805.75,775.2) scale(1.0,1)" text-anchor="middle" font-size="25.0">3</text><text transform="translate(877.1,775.2) scale(1.0,1)" text-anchor="middle" font-size="25.0">4</text><text transform="translate(516.2,643) rotate(-90)" text-anchor="middle" font-size="28.2">Occupancy</text><text transform="translate(901,558) scale(1.04,1)" text-anchor="end" font-size="24.0">500 nM fcAMP</text><text transform="translate(901,588) scale(1.04,1)" text-anchor="end" font-size="24.0"><tspan font-style="italic">n</tspan> = 64, <tspan font-style="italic">m</tspan> = 184,831</text><text transform="translate(901,618) scale(1.04,1)" text-anchor="end" font-size="24.0"><tspan font-style="italic">P</tspan><tspan dx="-2"> </tspan>= 0.13</text></g><g><path d="M592.7,946.81 L664.05,871.21 L735.4,993.62 L806.75,986.53 L878.1,993.31 M592.7,899.36 L664.05,916.26 L735.4,955.48 L806.75,990.25 L878.1,994.15 M592.7,956.63 L664.05,882.42 L735.4,968.32 L806.75,966.86 L878.1,993.28 M592.7,946.52 L664.05,898.26 L735.4,949.58 L806.75,989.86 L878.1,990.2 M592.7,953.52 L664.05,911.87 L735.4,939.19 L806.75,971.75 L878.1,993.28 M592.7,949.4 L664.05,898.87 L735.4,947.66 L806.75,986.02 L878.1,990.86 M592.7,918.93 L664.05,898.19 L735.4,957.25 L806.75,991.56 L878.1,993.42 M592.7,882.26 L664.05,902.16 L735.4,992.37 L806.75,983.6 L878.1,991.15 M592.7,902.17 L664.05,877.96 L735.4,993.69 L806.75,982.47 L878.1,991.4 M592.7,944.12 L664.05,920.79 L735.4,952.81 L806.75,962.34 L878.1,990.52 M592.7,917.4 L664.05,938.7 L735.4,961.17 L806.75,956.77 L878.1,991.09 M592.7,931.46 L664.05,915.61 L735.4,948.82 L806.75,982.32 L878.1,991.41 M592.7,881.06 L664.05,907.56 L735.4,990.85 L806.75,975.83 L878.1,994.32 M592.7,913.29 L664.05,937.99 L735.4,963.14 L806.75,961.12 L878.1,989.9 M592.7,937.3 L664.05,873.89 L735.4,991.72 L806.75,964.97 L878.1,994.91 M592.7,891.44 L664.05,937.54 L735.4,969.21 L806.75,961.97 L878.1,993.21 M592.7,949.04 L664.05,924.2 L735.4,939.87 L806.75,967.23 L878.1,991.67 M592.7,900.54 L664.05,939.83 L735.4,958.34 L806.75,971.66 L878.1,990.02 M592.7,906.8 L664.05,927.56 L735.4,960.5 L806.75,964.05 L878.1,994.29 M592.7,915.46 L664.05,905.42 L735.4,971.04 L806.75,985.23 L878.1,990.67 M592.7,932 L664.05,896.43 L735.4,984.28 L806.75,960.66 L878.1,991.17 M592.7,902.19 L664.05,925.48 L735.4,966.59 L806.75,979.03 L878.1,990.85 M592.7,874.1 L664.05,950.68 L735.4,937.88 L806.75,990.46 L878.1,992.98 M592.7,902.91 L664.05,891.49 L735.4,991.39 L806.75,971.53 L878.1,991.13 M592.7,951.37 L664.05,873.07 L735.4,977.29 L806.75,992.91 L878.1,993.71 M592.7,891.38 L664.05,945.85 L735.4,937.02 L806.75,980.63 L878.1,994.41 M592.7,943.35 L664.05,887.01 L735.4,972 L806.75,967.89 L878.1,994.11 M592.7,941.05 L664.05,928.03 L735.4,936.36 L806.75,989.92 L878.1,990.04 M592.7,904.24 L664.05,924.26 L735.4,964.99 L806.75,977.06 L878.1,991.57 M592.7,941.14 L664.05,888.05 L735.4,976.95 L806.75,980.7 L878.1,990.14 M592.7,899.7 L664.05,902.29 L735.4,972.59 L806.75,984.43 L878.1,994.7 M592.7,906.71 L664.05,930.1 L735.4,938.15 L806.75,991.8 L878.1,994.16 M592.7,878.35 L664.05,934.65 L735.4,984.69 L806.75,977.91 L878.1,991.94 M592.7,965.14 L664.05,878.39 L735.4,943.56 L806.75,990.67 L878.1,991.76 M592.7,956.07 L664.05,910.5 L735.4,942.23 L806.75,973.82 L878.1,990.44 M592.7,901.12 L664.05,921.3 L735.4,940.2 L806.75,993.64 L878.1,994.69 M592.7,907.74 L664.05,884.88 L735.4,988.07 L806.75,986.18 L878.1,992.31 M592.7,885.79 L664.05,889.79 L735.4,992.13 L806.75,985.64 L878.1,993.4 M592.7,932.74 L664.05,926.56 L735.4,944.81 L806.75,984.58 L878.1,989.88 M592.7,947.1 L664.05,940.22 L735.4,936.92 L806.75,971.53 L878.1,989.69 M592.7,881.59 L664.05,930.34 L735.4,966.75 L806.75,994.22 L878.1,990.11 M592.7,933.4 L664.05,885.09 L735.4,974.9 L806.75,984.75 L878.1,992.66 M592.7,913.04 L664.05,904.06 L735.4,987.39 L806.75,958.05 L878.1,993.17 M592.7,926.54 L664.05,891.36 L735.4,982.25 L806.75,976.48 L878.1,990.84 M592.7,927 L664.05,933.92 L735.4,940.17 L806.75,969.56 L878.1,993.36 M592.7,936.14 L664.05,904.94 L735.4,941.62 L806.75,988.18 L878.1,994.45 M592.7,962.31 L664.05,899.14 L735.4,946.96 L806.75,960.49 L878.1,992.09 M592.7,927.1 L664.05,947.52 L735.4,934.67 L806.75,964.58 L878.1,990.11 M592.7,954.35 L664.05,910.72 L735.4,946.08 L806.75,961.99 L878.1,992.5 M592.7,956.2 L664.05,883.39 L735.4,948.02 L806.75,983.38 L878.1,994.6 M592.7,969.58 L664.05,877.85 L735.4,948.76 L806.75,959.58 L878.1,992.3 M592.7,901.25 L664.05,900.06 L735.4,983.13 L806.75,985.57 L878.1,991.25 M592.7,886.9 L664.05,948.38 L735.4,936.19 L806.75,968.12 L878.1,994.94 M592.7,894.31 L664.05,912.77 L735.4,988.17 L806.75,971.09 L878.1,990.46 M592.7,874.39 L664.05,951.24 L735.4,941.76 L806.75,960.8 L878.1,990.2 M592.7,962.11 L664.05,931.96 L735.4,933.94 L806.75,960.52 L878.1,991.25 M592.7,956.62 L664.05,883.89 L735.4,973.73 L806.75,965.79 L878.1,990.96 M592.7,914.39 L664.05,901.65 L735.4,973.7 L806.75,983.36 L878.1,991.66 M592.7,896.54 L664.05,939.35 L735.4,943.29 L806.75,982.93 L878.1,993.53 M592.7,958.12 L664.05,886.29 L735.4,948.31 L806.75,989.54 L878.1,990.57 M592.7,969.07 L664.05,882.98 L735.4,942.14 L806.75,964.24 L878.1,991.02 M592.7,954.31 L664.05,916.1 L735.4,935.37 L806.75,988.6 L878.1,990.6 M592.7,905.12 L664.05,895.09 L735.4,976.35 L806.75,986.58 L878.1,994.2 M592.7,884.61 L664.05,890.85 L735.4,990.08 L806.75,992.26 L878.1,992.94 M592.7,889.72 L664.05,944.02 L735.4,955.6 L806.75,967.28 L878.1,991.75 M592.7,942.13 L664.05,923.93 L735.4,949.52 L806.75,958.32 L878.1,993.28 M592.7,950.19 L664.05,897.33 L735.4,950.3 L806.75,976.44 L878.1,992.7 M592.7,920.76 L664.05,911.56 L735.4,960.24 L806.75,980.81 L878.1,991.91 M592.7,941.41 L664.05,891.19 L735.4,969.77 L806.75,976.68 L878.1,991.49 M592.7,951.92 L664.05,913.07 L735.4,934.88 L806.75,987.74 L878.1,993.43 M592.7,911.47 L664.05,934.87 L735.4,944.83 L806.75,984.89 L878.1,990.52" fill="none" stroke="#b3b3b3" stroke-width="0.9" stroke-linejoin="round"/><path d="M575,803.5 V1003.7 H896.7" fill="none" stroke="#000" stroke-width="2"/><path d="M570.8,995.1 H575 M570.8,976.9 H575 M570.8,958.7 H575 M570.8,940.5 H575 M570.8,922.3 H575 M570.8,904.1 H575 M570.8,885.9 H575 M570.8,867.7 H575 M570.8,849.5 H575 M570.8,831.3 H575 M570.8,813.1 H575 M592.7,1003.7 V1008.2 M664.05,1003.7 V1008.2 M735.4,1003.7 V1008.2 M806.75,1003.7 V1008.2 M878.1,1003.7 V1008.2" stroke="#000" stroke-width="2"/><path d="M592.7,917.93 L600.7,929.03 L592.7,940.13 L584.7,929.03Z" fill="none" stroke="#000" stroke-width="3.7" stroke-miterlimit="10"/><path d="M664.05,906.83 L672.05,917.93 L664.05,929.03 L656.05,917.93Z" fill="none" stroke="#000" stroke-width="3.7" stroke-miterlimit="10"/><path d="M735.4,952.15 L743.4,963.25 L735.4,974.35 L727.4,963.25Z" fill="none" stroke="#000" stroke-width="3.7" stroke-miterlimit="10"/><path d="M806.75,976.72 L814.75,987.82 L806.75,998.92 L798.75,987.82Z" fill="none" stroke="#000" stroke-width="3.7" stroke-miterlimit="10"/><path d="M878.1,983.09 L886.1,994.19 L878.1,1005.29 L870.1,994.19Z" fill="none" stroke="#000" stroke-width="3.7" stroke-miterlimit="10"/><path d="M592.7,928.31 L664.05,919.02 L735.4,962.16 L806.75,988.18 L878.1,994.37" fill="none" stroke="#dc0a0a" stroke-width="4" stroke-linejoin="round"/><circle cx="592.7" cy="928.31" r="6.5" fill="#f70000"/><circle cx="664.05" cy="919.02" r="6.5" fill="#f70000"/><circle cx="735.4" cy="962.16" r="6.5" fill="#f70000"/><circle cx="806.75" cy="988.18" r="6.5" fill="#f70000"/><circle cx="878.1" cy="994.37" r="6.5" fill="#f70000"/><text transform="translate(564.5,1004) scale(1.0,1)" text-anchor="end" font-size="25.0">0</text><text transform="translate(564.5,967.6) scale(1.0,1)" text-anchor="end" font-size="25.0">0.2</text><text transform="translate(564.5,931.2) scale(1.0,1)" text-anchor="end" font-size="25.0">0.4</text><text transform="translate(564.5,894.8) scale(1.0,1)" text-anchor="end" font-size="25.0">0.6</text><text transform="translate(564.5,858.4) scale(1.0,1)" text-anchor="end" font-size="25.0">0.8</text><text transform="translate(564.5,822) scale(1.0,1)" text-anchor="end" font-size="25.0">1</text><text transform="translate(591.7,1037.7) scale(1.0,1)" text-anchor="middle" font-size="25.0">0</text><text transform="translate(663.05,1037.7) scale(1.0,1)" text-anchor="middle" font-size="25.0">1</text><text transform="translate(734.4,1037.7) scale(1.0,1)" text-anchor="middle" font-size="25.0">2</text><text transform="translate(805.75,1037.7) scale(1.0,1)" text-anchor="middle" font-size="25.0">3</text><text transform="translate(877.1,1037.7) scale(1.0,1)" text-anchor="middle" font-size="25.0">4</text><text transform="translate(516.2,905.5) rotate(-90)" text-anchor="middle" font-size="28.2">Occupancy</text><text transform="translate(901,820.5) scale(1.04,1)" text-anchor="end" font-size="24.0">750 nM fcAMP</text><text transform="translate(901,850.5) scale(1.04,1)" text-anchor="end" font-size="24.0"><tspan font-style="italic">n</tspan> = 71, <tspan font-style="italic">m</tspan> = 196,987</text><text transform="translate(901,880.5) scale(1.04,1)" text-anchor="end" font-size="24.0"><tspan font-style="italic">P</tspan><tspan dx="-2"> </tspan>= 0.22</text></g><g><path d="M592.7,1174.35 L664.05,1172.29 L735.4,1233.52 L806.75,1245.85 L878.1,1255.5 M592.7,1170.1 L664.05,1208.79 L735.4,1221.68 L806.75,1225.94 L878.1,1254.82 M592.7,1203.54 L664.05,1171.64 L735.4,1228.46 L806.75,1224.79 L878.1,1257.21 M592.7,1195.42 L664.05,1187.44 L735.4,1205.23 L806.75,1236.47 L878.1,1256.93 M592.7,1207.61 L664.05,1174.51 L735.4,1223.31 L806.75,1230.57 L878.1,1254.4 M592.7,1153.7 L664.05,1217.69 L735.4,1215.84 L806.75,1239.12 L878.1,1254.05 M592.7,1225.57 L664.05,1192.69 L735.4,1202.26 L806.75,1230.31 L878.1,1250.69 M592.7,1228.1 L664.05,1170.03 L735.4,1218.39 L806.75,1228.68 L878.1,1251.69 M592.7,1226.99 L664.05,1176.49 L735.4,1209.15 L806.75,1230.42 L878.1,1252.12 M592.7,1215.64 L664.05,1188.94 L735.4,1226.95 L806.75,1222.69 L878.1,1251.76 M592.7,1187.14 L664.05,1217.95 L735.4,1187.15 L806.75,1235.84 L878.1,1250.72 M592.7,1213.8 L664.05,1209.13 L735.4,1183.01 L806.75,1240.77 L878.1,1257.27 M592.7,1208.2 L664.05,1168.44 L735.4,1234.36 L806.75,1223.88 L878.1,1256.46 M592.7,1240.26 L664.05,1152.26 L735.4,1207.07 L806.75,1236.51 L878.1,1253.86 M592.7,1243.59 L664.05,1145.57 L735.4,1220.27 L806.75,1233.52 L878.1,1252.21 M592.7,1165.93 L664.05,1195.52 L735.4,1234.05 L806.75,1241.41 L878.1,1251.64 M592.7,1219.37 L664.05,1142.76 L735.4,1247.22 L806.75,1227.96 L878.1,1256.71 M592.7,1153.56 L664.05,1213.78 L735.4,1211.84 L806.75,1248.46 L878.1,1257.18 M592.7,1178.2 L664.05,1151.69 L735.4,1246.2 L806.75,1247.34 L878.1,1252.96 M592.7,1238.35 L664.05,1176.7 L735.4,1210.63 L806.75,1221.75 L878.1,1255.57 M592.7,1179.26 L664.05,1154.63 L735.4,1237.75 L806.75,1257.1 L878.1,1250.44 M592.7,1175.39 L664.05,1218.92 L735.4,1198.91 L806.75,1222.24 L878.1,1252.71 M592.7,1188.62 L664.05,1155.2 L735.4,1244.26 L806.75,1246.98 L878.1,1250.89 M592.7,1214.04 L664.05,1167.73 L735.4,1221.96 L806.75,1239.4 L878.1,1251.94 M592.7,1154.39 L664.05,1216.8 L735.4,1212.5 L806.75,1241.16 L878.1,1255.13 M592.7,1239.3 L664.05,1191.22 L735.4,1188.09 L806.75,1228.4 L878.1,1251.94 M592.7,1168.35 L664.05,1204.58 L735.4,1226.89 L806.75,1237.22 L878.1,1251.1 M592.7,1223.96 L664.05,1185.32 L735.4,1189.79 L806.75,1250.85 L878.1,1251.67 M592.7,1195.91 L664.05,1215.74 L735.4,1202.8 L806.75,1221.97 L878.1,1252.28 M592.7,1192.07 L664.05,1161.69 L735.4,1221.64 L806.75,1254.05 L878.1,1254.06 M592.7,1242.13 L664.05,1181.8 L735.4,1182.57 L806.75,1244.79 L878.1,1256.66 M592.7,1182.61 L664.05,1201.28 L735.4,1217.65 L806.75,1234.66 L878.1,1251.5 M592.7,1198.3 L664.05,1145.64 L735.4,1248.69 L806.75,1224.05 L878.1,1256.99 M592.7,1174.69 L664.05,1205.14 L735.4,1218.82 L806.75,1235.08 L878.1,1251.58 M592.7,1203.76 L664.05,1207.9 L735.4,1188.59 L806.75,1235.67 L878.1,1255.15 M592.7,1210.57 L664.05,1164.38 L735.4,1204.64 L806.75,1249.11 L878.1,1256.81 M592.7,1175.76 L664.05,1157.67 L735.4,1247.77 L806.75,1234.54 L878.1,1251.9 M592.7,1243.47 L664.05,1141.41 L735.4,1225.39 L806.75,1245.61 L878.1,1254.86 M592.7,1216.67 L664.05,1156.48 L735.4,1218.6 L806.75,1243.19 L878.1,1256.34 M592.7,1246.45 L664.05,1154.96 L735.4,1190.27 L806.75,1226.49 L878.1,1255.35 M592.7,1176.86 L664.05,1163 L735.4,1234.61 L806.75,1249.48 L878.1,1256.09 M592.7,1175.15 L664.05,1160.03 L735.4,1246.71 L806.75,1231.53 L878.1,1254.67 M592.7,1200.8 L664.05,1186.89 L735.4,1225.95 L806.75,1225.46 L878.1,1253.8 M592.7,1209.08 L664.05,1147.21 L735.4,1242.44 L806.75,1252.37 L878.1,1250.63 M592.7,1171.99 L664.05,1212.54 L735.4,1204.47 L806.75,1230.47 L878.1,1254.62 M592.7,1182.34 L664.05,1205.97 L735.4,1210.85 L806.75,1232.79 L878.1,1252.07 M592.7,1163.11 L664.05,1215.3 L735.4,1205.89 L806.75,1241.13 L878.1,1251.31 M592.7,1159.93 L664.05,1203.75 L735.4,1221.13 L806.75,1243.84 L878.1,1256.24 M592.7,1216.05 L664.05,1144.42 L735.4,1240.23 L806.75,1252.99 L878.1,1251.86 M592.7,1187.04 L664.05,1161.77 L735.4,1219.77 L806.75,1252.41 L878.1,1257 M592.7,1156.35 L664.05,1194.18 L735.4,1226.83 L806.75,1252.35 L878.1,1257.09 M592.7,1227.35 L664.05,1189.99 L735.4,1186.56 L806.75,1244.42 L878.1,1254.96 M592.7,1229.37 L664.05,1161.04 L735.4,1199.61 L806.75,1251.76 L878.1,1252.37 M592.7,1180.17 L664.05,1214.29 L735.4,1186.47 L806.75,1245.29 L878.1,1255.46 M592.7,1220.99 L664.05,1153.22 L735.4,1227.4 L806.75,1247.6 L878.1,1251.62 M592.7,1190.62 L664.05,1159.25 L735.4,1235.57 L806.75,1253.3 L878.1,1250.92 M592.7,1197.73 L664.05,1201.21 L735.4,1193.98 L806.75,1245.25 L878.1,1252.89 M592.7,1168.31 L664.05,1213.53 L735.4,1190.91 L806.75,1246.14 L878.1,1256.28 M592.7,1190.2 L664.05,1174.1 L735.4,1215.9 L806.75,1254.04 L878.1,1251.61 M592.7,1154.97 L664.05,1167.47 L735.4,1245.82 L806.75,1254.69 L878.1,1255.43 M592.7,1236.27 L664.05,1173.04 L735.4,1205.78 L806.75,1226.43 L878.1,1252.18 M592.7,1233.38 L664.05,1148.75 L735.4,1236.64 L806.75,1223.94 L878.1,1256.51 M592.7,1187.61 L664.05,1180.96 L735.4,1215.37 L806.75,1243.24 L878.1,1256.02 M592.7,1178.64 L664.05,1198.81 L735.4,1203.79 L806.75,1241.37 L878.1,1256.63 M592.7,1207.68 L664.05,1205.68 L735.4,1194.18 L806.75,1226.94 L878.1,1255.39 M592.7,1243.9 L664.05,1166.05 L735.4,1186.74 L806.75,1237.79 L878.1,1253.91 M592.7,1221.26 L664.05,1140.98 L735.4,1245.19 L806.75,1247.69 L878.1,1256.86 M592.7,1188.11 L664.05,1190.41 L735.4,1208.35 L806.75,1241.26 L878.1,1255.67 M592.7,1213.67 L664.05,1152.98 L735.4,1224.37 L806.75,1247.22 L878.1,1255.79 M592.7,1231.54 L664.05,1173.18 L735.4,1199.91 L806.75,1228.83 L878.1,1256.11 M592.7,1216.73 L664.05,1150.64 L735.4,1232.52 L806.75,1247.01 L878.1,1252.79 M592.7,1233.9 L664.05,1147.14 L735.4,1198.54 L806.75,1255.57 L878.1,1256.24 M592.7,1158.52 L664.05,1209.74 L735.4,1224.57 L806.75,1235.73 L878.1,1255.38 M592.7,1175.13 L664.05,1171.86 L735.4,1243.06 L806.75,1231 L878.1,1254.63 M592.7,1214.36 L664.05,1143.44 L735.4,1233.01 L806.75,1254.85 L878.1,1256.49 M592.7,1225.73 L664.05,1180.22 L735.4,1185.78 L806.75,1254.73 L878.1,1254.07 M592.7,1154.48 L664.05,1219.13 L735.4,1222.13 L806.75,1223.77 L878.1,1254.47 M592.7,1244.16 L664.05,1147.4 L735.4,1190.24 L806.75,1253.77 L878.1,1253.7 M592.7,1212.63 L664.05,1208.03 L735.4,1190.21 L806.75,1236.42 L878.1,1251.01 M592.7,1151.34 L664.05,1211.05 L735.4,1241.63 L806.75,1246.44 L878.1,1256.12 M592.7,1242.74 L664.05,1183.57 L735.4,1194.74 L806.75,1223.12 L878.1,1251.39 M592.7,1159.15 L664.05,1192.81 L735.4,1232.03 L806.75,1253.98 L878.1,1251.81 M592.7,1183.04 L664.05,1211.96 L735.4,1203.98 L806.75,1228.92 L878.1,1251.9 M592.7,1157.79 L664.05,1217.87 L735.4,1229.81 L806.75,1224.16 L878.1,1250.87 M592.7,1180.28 L664.05,1203.8 L735.4,1204.41 L806.75,1240.99 L878.1,1253.53 M592.7,1159.93 L664.05,1203.86 L735.4,1227.3 L806.75,1249.52 L878.1,1251.37 M592.7,1197.69 L664.05,1166.47 L735.4,1211.85 L806.75,1253.24 L878.1,1254.78 M592.7,1151.71 L664.05,1206.07 L735.4,1247.52 L806.75,1241.14 L878.1,1251.75 M592.7,1215.23 L664.05,1155.58 L735.4,1232.87 L806.75,1238.98 L878.1,1252.89 M592.7,1159.88 L664.05,1166.68 L735.4,1247.82 L806.75,1241.62 L878.1,1253.33 M592.7,1232.22 L664.05,1148.63 L735.4,1223.42 L806.75,1241.46 L878.1,1254.46 M592.7,1204.2 L664.05,1210.13 L735.4,1188.76 L806.75,1237.61 L878.1,1252.19 M592.7,1237.19 L664.05,1180.88 L735.4,1191.24 L806.75,1242.68 L878.1,1250.62 M592.7,1232.11 L664.05,1180.96 L735.4,1203.21 L806.75,1225.49 L878.1,1253.54 M592.7,1191.57 L664.05,1156.61 L735.4,1241.33 L806.75,1230.46 L878.1,1257.03 M592.7,1211.83 L664.05,1170.92 L735.4,1204.45 L806.75,1243.49 L878.1,1256.49 M592.7,1178.03 L664.05,1169.3 L735.4,1201.71 L806.75,1255.46 L878.1,1257.54 M592.7,1176.49 L664.05,1167.99 L735.4,1244.18 L806.75,1230.1 L878.1,1254.94 M592.7,1190 L664.05,1216.7 L735.4,1182.14 L806.75,1251.94 L878.1,1256.41 M592.7,1156.72 L664.05,1178.66 L735.4,1240.18 L806.75,1255.18 L878.1,1253.59 M592.7,1167.94 L664.05,1169.97 L735.4,1238.19 L806.75,1250.12 L878.1,1254.53 M592.7,1211.77 L664.05,1194.84 L735.4,1192.18 L806.75,1242.93 L878.1,1253.84 M592.7,1188.6 L664.05,1165.53 L735.4,1228.43 L806.75,1248.49 L878.1,1254.47 M592.7,1165.57 L664.05,1205.96 L735.4,1234.07 L806.75,1226.31 L878.1,1253.13 M592.7,1238.43 L664.05,1149.06 L735.4,1191.34 L806.75,1256.03 L878.1,1254.76 M592.7,1233.84 L664.05,1200.03 L735.4,1183.8 L806.75,1239.71 L878.1,1253.82 M592.7,1161.83 L664.05,1202.92 L735.4,1212.35 L806.75,1256.15 L878.1,1250.73 M592.7,1245.3 L664.05,1158.35 L735.4,1199.9 L806.75,1224.26 L878.1,1252.74 M592.7,1204.34 L664.05,1189.35 L735.4,1211.03 L806.75,1237.74 L878.1,1251.47 M592.7,1232.97 L664.05,1191.86 L735.4,1184.9 L806.75,1242.68 L878.1,1254.62 M592.7,1199.94 L664.05,1150.39 L735.4,1243.96 L806.75,1251.8 L878.1,1250.46 M592.7,1173.03 L664.05,1151.04 L735.4,1243.61 L806.75,1253.27 L878.1,1255.55 M592.7,1205.71 L664.05,1181.71 L735.4,1214.31 L806.75,1231.81 L878.1,1255.15 M592.7,1228.44 L664.05,1153.1 L735.4,1248.07 L806.75,1221.61 L878.1,1250.69 M592.7,1201.03 L664.05,1161.15 L735.4,1241.86 L806.75,1227.24 L878.1,1253.96 M592.7,1230.6 L664.05,1144.77 L735.4,1240.61 L806.75,1232.09 L878.1,1254.69 M592.7,1173.59 L664.05,1172.91 L735.4,1246.16 L806.75,1224.36 L878.1,1255.48 M592.7,1227.73 L664.05,1196.46 L735.4,1193.65 L806.75,1224.18 L878.1,1255.83 M592.7,1167.07 L664.05,1208.34 L735.4,1229.05 L806.75,1228.25 L878.1,1251.88 M592.7,1152.99 L664.05,1215.67 L735.4,1226.98 L806.75,1242.4 L878.1,1253.94 M592.7,1158.74 L664.05,1183.93 L735.4,1241.6 L806.75,1241.74 L878.1,1256.31 M592.7,1194.75 L664.05,1196.22 L735.4,1199.07 L806.75,1253.38 L878.1,1250.6 M592.7,1152.82 L664.05,1209.1 L735.4,1224.83 L806.75,1255.3 L878.1,1254.19 M592.7,1187.25 L664.05,1166.22 L735.4,1232.71 L806.75,1253.42 L878.1,1250.69 M592.7,1246.54 L664.05,1140.38 L735.4,1220.11 L806.75,1244.88 L878.1,1255.45 M592.7,1215.12 L664.05,1184 L735.4,1211.46 L806.75,1234.11 L878.1,1251.43 M592.7,1170.36 L664.05,1162.15 L735.4,1247.22 L806.75,1236.32 L878.1,1252.44 M592.7,1203.34 L664.05,1194.53 L735.4,1201.66 L806.75,1242.78 L878.1,1251.54 M592.7,1224.93 L664.05,1143.39 L735.4,1237.7 L806.75,1248.18 L878.1,1255.32 M592.7,1208.52 L664.05,1156.31 L735.4,1220.59 L806.75,1252.84 L878.1,1253.35 M592.7,1172.07 L664.05,1188.08 L735.4,1195.73 L806.75,1256.22 L878.1,1257.03 M592.7,1173.2 L664.05,1172.38 L735.4,1245.49 L806.75,1224.86 L878.1,1256.22 M592.7,1169.52 L664.05,1202.91 L735.4,1199.85 L806.75,1255.61 L878.1,1251.54 M592.7,1208.72 L664.05,1146.98 L735.4,1239.98 L806.75,1248.18 L878.1,1253.98 M592.7,1218.75 L664.05,1156.71 L735.4,1217.73 L806.75,1249 L878.1,1253.27 M592.7,1194.64 L664.05,1201.3 L735.4,1206.45 L806.75,1225.45 L878.1,1256.64 M592.7,1222.63 L664.05,1167.87 L735.4,1212.85 L806.75,1225.77 L878.1,1257.3 M592.7,1229.39 L664.05,1149.66 L735.4,1231.94 L806.75,1231.42 L878.1,1255.3 M592.7,1205.31 L664.05,1203.37 L735.4,1186.23 L806.75,1248.92 L878.1,1254.91 M592.7,1204.15 L664.05,1167.77 L735.4,1210.1 L806.75,1248.32 L878.1,1256.02 M592.7,1203 L664.05,1181.16 L735.4,1166.6 L806.75,1230.3 L878.1,1253.96 M592.7,1203 L664.05,1188.44 L735.4,1203 L806.75,1201.18 L878.1,1252.14 M592.7,1212.1 L664.05,1184.8 L735.4,1193.9 L806.75,1212.1 L878.1,1252.14" fill="none" stroke="#b3b3b3" stroke-width="0.9" stroke-linejoin="round"/><path d="M575,1066 V1266.2 H896.7" fill="none" stroke="#000" stroke-width="2"/><path d="M570.8,1257.6 H575 M570.8,1239.4 H575 M570.8,1221.2 H575 M570.8,1203 H575 M570.8,1184.8 H575 M570.8,1166.6 H575 M570.8,1148.4 H575 M570.8,1130.2 H575 M570.8,1112 H575 M570.8,1093.8 H575 M570.8,1075.6 H575 M592.7,1266.2 V1270.7 M664.05,1266.2 V1270.7 M735.4,1266.2 V1270.7 M806.75,1266.2 V1270.7 M878.1,1266.2 V1270.7" stroke="#000" stroke-width="2"/><path d="M592.7,1190.99 L600.7,1202.09 L592.7,1213.19 L584.7,1202.09Z" fill="none" stroke="#000" stroke-width="3.7" stroke-miterlimit="10"/><path d="M664.05,1167.33 L672.05,1178.43 L664.05,1189.53 L656.05,1178.43Z" fill="none" stroke="#000" stroke-width="3.7" stroke-miterlimit="10"/><path d="M735.4,1209.37 L743.4,1220.47 L735.4,1231.57 L727.4,1220.47Z" fill="none" stroke="#000" stroke-width="3.7" stroke-miterlimit="10"/><path d="M806.75,1237.76 L814.75,1248.86 L806.75,1259.96 L798.75,1248.86Z" fill="none" stroke="#000" stroke-width="3.7" stroke-miterlimit="10"/><path d="M878.1,1245.59 L886.1,1256.69 L878.1,1267.79 L870.1,1256.69Z" fill="none" stroke="#000" stroke-width="3.7" stroke-miterlimit="10"/><path d="M592.7,1200.09 L664.05,1180.98 L735.4,1217.92 L806.75,1248.86 L878.1,1256.69" fill="none" stroke="#dc0a0a" stroke-width="4" stroke-linejoin="round"/><circle cx="592.7" cy="1200.09" r="6.5" fill="#f70000"/><circle cx="664.05" cy="1180.98" r="6.5" fill="#f70000"/><circle cx="735.4" cy="1217.92" r="6.5" fill="#f70000"/><circle cx="806.75" cy="1248.86" r="6.5" fill="#f70000"/><circle cx="878.1" cy="1256.69" r="6.5" fill="#f70000"/><text transform="translate(564.5,1266.5) scale(1.0,1)" text-anchor="end" font-size="25.0">0</text><text transform="translate(564.5,1230.1) scale(1.0,1)" text-anchor="end" font-size="25.0">0.2</text><text transform="translate(564.5,1193.7) scale(1.0,1)" text-anchor="end" font-size="25.0">0.4</text><text transform="translate(564.5,1157.3) scale(1.0,1)" text-anchor="end" font-size="25.0">0.6</text><text transform="translate(564.5,1120.9) scale(1.0,1)" text-anchor="end" font-size="25.0">0.8</text><text transform="translate(564.5,1084.5) scale(1.0,1)" text-anchor="end" font-size="25.0">1</text><text transform="translate(591.7,1300.2) scale(1.0,1)" text-anchor="middle" font-size="25.0">0</text><text transform="translate(663.05,1300.2) scale(1.0,1)" text-anchor="middle" font-size="25.0">1</text><text transform="translate(734.4,1300.2) scale(1.0,1)" text-anchor="middle" font-size="25.0">2</text><text transform="translate(805.75,1300.2) scale(1.0,1)" text-anchor="middle" font-size="25.0">3</text><text transform="translate(877.1,1300.2) scale(1.0,1)" text-anchor="middle" font-size="25.0">4</text><text transform="translate(516.2,1168) rotate(-90)" text-anchor="middle" font-size="28.2">Occupancy</text><text transform="translate(901,1083) scale(1.04,1)" text-anchor="end" font-size="24.0">1000 nM fcAMP</text><text transform="translate(901,1113) scale(1.04,1)" text-anchor="end" font-size="24.0"><tspan font-style="italic">n</tspan> = 140, <tspan font-style="italic">m</tspan> = 389,719</text><text transform="translate(901,1143) scale(1.04,1)" text-anchor="end" font-size="24.0"><tspan font-style="italic">P</tspan><tspan dx="-2"> </tspan>= 0.25</text></g><g><path d="M592.7,1467.18 L664.05,1421.7 L735.4,1500.72 L806.75,1515.59 L878.1,1514.38 M592.7,1502.21 L664.05,1453.09 L735.4,1453.59 L806.75,1496.96 L878.1,1510.79 M592.7,1502.72 L664.05,1443.1 L735.4,1481.7 L806.75,1482.51 L878.1,1512.77 M592.7,1463.8 L664.05,1426.19 L735.4,1496.43 L806.75,1511.31 L878.1,1515.91 M592.7,1499.77 L664.05,1432.46 L735.4,1463.94 L806.75,1503.5 L878.1,1518.38 M592.7,1457.86 L664.05,1452.48 L735.4,1484.7 L806.75,1506.91 L878.1,1510.25 M592.7,1476.48 L664.05,1437.51 L735.4,1453.26 L806.75,1518.27 L878.1,1518.65 M592.7,1496.43 L664.05,1426.23 L735.4,1485.85 L806.75,1501.62 L878.1,1517.34 M592.7,1465.42 L664.05,1453.64 L735.4,1496.53 L806.75,1480.87 L878.1,1518.79 M592.7,1465.96 L664.05,1455.06 L735.4,1491.42 L806.75,1481.38 L878.1,1519.74 M592.7,1466.03 L664.05,1479.71 L735.4,1443.8 L806.75,1480.83 L878.1,1516.03 M592.7,1448.32 L664.05,1425.22 L735.4,1500.14 L806.75,1508.91 L878.1,1519.43 M592.7,1493.03 L664.05,1476.99 L735.4,1443.05 L806.75,1486.66 L878.1,1513.03 M592.7,1461.43 L664.05,1431.52 L735.4,1497.39 L806.75,1498.19 L878.1,1515.54 M592.7,1460.61 L664.05,1457.58 L735.4,1465.12 L806.75,1508.3 L878.1,1516.62 M592.7,1462.03 L664.05,1466.36 L735.4,1464.41 L806.75,1493.53 L878.1,1518.03 M592.7,1499.81 L664.05,1423.7 L735.4,1498.59 L806.75,1488.24 L878.1,1512.97 M592.7,1460.22 L664.05,1473.96 L735.4,1445.61 L806.75,1514.18 L878.1,1511.62 M592.7,1443.39 L664.05,1454.51 L735.4,1497.33 L806.75,1505.67 L878.1,1511.07 M592.7,1495.44 L664.05,1430.1 L735.4,1468.16 L806.75,1513.71 L878.1,1513.53 M592.7,1451.17 L664.05,1442.89 L735.4,1499.44 L806.75,1486.98 L878.1,1514.52 M592.7,1448.78 L664.05,1449.13 L735.4,1497.55 L806.75,1494.77 L878.1,1511.7 M592.7,1509.57 L664.05,1425.4 L735.4,1471.66 L806.75,1491.81 L878.1,1518.43 M592.7,1485.75 L664.05,1431.51 L735.4,1484.71 L806.75,1502.96 L878.1,1515.18 M592.7,1504.34 L664.05,1466.22 L735.4,1448.72 L806.75,1485.34 L878.1,1512.2 M592.7,1491.05 L664.05,1448.4 L735.4,1454.19 L806.75,1508.19 L878.1,1514.97 M592.7,1464.53 L664.05,1426.24 L735.4,1491.69 L806.75,1516.79 L878.1,1515.19 M592.7,1458.6 L664.05,1466.6 L735.4,1454.74 L806.75,1505.62 L878.1,1518.91 M592.7,1484.49 L664.05,1478.13 L735.4,1442.68 L806.75,1485.92 L878.1,1515.38 M592.7,1470.95 L664.05,1443.19 L735.4,1488.13 L806.75,1496.13 L878.1,1512.76 M592.7,1498.77 L664.05,1470.28 L735.4,1440.32 L806.75,1518.53 L878.1,1516.83 M592.7,1510.99 L664.05,1428.94 L735.4,1458.36 L806.75,1485.55 L878.1,1519.47 M592.7,1481.05 L664.05,1446.59 L735.4,1466.7 L806.75,1509.4 L878.1,1511.38 M592.7,1489.71 L664.05,1455.53 L735.4,1470.69 L806.75,1488.92 L878.1,1511.52 M592.7,1463.29 L664.05,1447.73 L735.4,1490.37 L806.75,1497.72 L878.1,1510.69 M592.7,1468.18 L664.05,1422.08 L735.4,1500.38 L806.75,1507.82 L878.1,1519.23 M592.7,1496.26 L664.05,1461.76 L735.4,1484.26 L806.75,1481.84 L878.1,1509.29 M592.7,1501.44 L664.05,1424.68 L735.4,1474.13 L806.75,1514.34 L878.1,1515.16 M592.7,1455.79 L664.05,1435.44 L735.4,1494 L806.75,1500.56 L878.1,1519.03 M592.7,1475.38 L664.05,1448.89 L735.4,1461.46 L806.75,1510.84 L878.1,1515.25 M592.7,1477.45 L664.05,1467.22 L735.4,1456.64 L806.75,1492.35 L878.1,1515.24 M592.7,1510.16 L664.05,1431.59 L735.4,1471.53 L806.75,1484.11 L878.1,1513.77 M592.7,1454.23 L664.05,1433.9 L735.4,1494.12 L806.75,1512.6 L878.1,1513.04 M592.7,1448.54 L664.05,1476.8 L735.4,1451.52 L806.75,1505.81 L878.1,1513.16 M592.7,1505.72 L664.05,1442.04 L735.4,1452.35 L806.75,1494.27 L878.1,1518.01 M592.7,1505.31 L664.05,1449.9 L735.4,1458.55 L806.75,1484.69 L878.1,1516.32 M592.7,1473 L664.05,1474.54 L735.4,1444.62 L806.75,1493.05 L878.1,1519.56 M592.7,1465.63 L664.05,1441.07 L735.4,1474.08 L806.75,1514.23 L878.1,1514.49 M592.7,1463.23 L664.05,1442.85 L735.4,1477.65 L806.75,1511.03 L878.1,1515.63 M592.7,1474.6 L664.05,1450.94 L735.4,1419.27 L806.75,1483.7 L878.1,1514.64 M592.7,1483.7 L664.05,1447.3 L735.4,1465.5 L806.75,1466.77 L878.1,1512.82" fill="none" stroke="#b3b3b3" stroke-width="0.9" stroke-linejoin="round"/><path d="M575,1328.5 V1528.7 H896.7" fill="none" stroke="#000" stroke-width="2"/><path d="M570.8,1520.1 H575 M570.8,1501.9 H575 M570.8,1483.7 H575 M570.8,1465.5 H575 M570.8,1447.3 H575 M570.8,1429.1 H575 M570.8,1410.9 H575 M570.8,1392.7 H575 M570.8,1374.5 H575 M570.8,1356.3 H575 M570.8,1338.1 H575 M592.7,1528.7 V1533.2 M664.05,1528.7 V1533.2 M735.4,1528.7 V1533.2 M806.75,1528.7 V1533.2 M878.1,1528.7 V1533.2" stroke="#000" stroke-width="2"/><path d="M592.7,1467.14 L600.7,1478.24 L592.7,1489.34 L584.7,1478.24Z" fill="none" stroke="#000" stroke-width="3.7" stroke-miterlimit="10"/><path d="M664.05,1436.56 L672.05,1447.66 L664.05,1458.76 L656.05,1447.66Z" fill="none" stroke="#000" stroke-width="3.7" stroke-miterlimit="10"/><path d="M735.4,1459.13 L743.4,1470.23 L735.4,1481.33 L727.4,1470.23Z" fill="none" stroke="#000" stroke-width="3.7" stroke-miterlimit="10"/><path d="M806.75,1493.17 L814.75,1504.27 L806.75,1515.37 L798.75,1504.27Z" fill="none" stroke="#000" stroke-width="3.7" stroke-miterlimit="10"/><path d="M878.1,1507.18 L886.1,1518.28 L878.1,1529.38 L870.1,1518.28Z" fill="none" stroke="#000" stroke-width="3.7" stroke-miterlimit="10"/><path d="M592.7,1478.42 L664.05,1446.03 L735.4,1470.05 L806.75,1504.27 L878.1,1518.28" fill="none" stroke="#dc0a0a" stroke-width="4" stroke-linejoin="round"/><circle cx="592.7" cy="1478.42" r="6.5" fill="#f70000"/><circle cx="664.05" cy="1446.03" r="6.5" fill="#f70000"/><circle cx="735.4" cy="1470.05" r="6.5" fill="#f70000"/><circle cx="806.75" cy="1504.27" r="6.5" fill="#f70000"/><circle cx="878.1" cy="1518.28" r="6.5" fill="#f70000"/><text transform="translate(564.5,1529) scale(1.0,1)" text-anchor="end" font-size="25.0">0</text><text transform="translate(564.5,1492.6) scale(1.0,1)" text-anchor="end" font-size="25.0">0.2</text><text transform="translate(564.5,1456.2) scale(1.0,1)" text-anchor="end" font-size="25.0">0.4</text><text transform="translate(564.5,1419.8) scale(1.0,1)" text-anchor="end" font-size="25.0">0.6</text><text transform="translate(564.5,1383.4) scale(1.0,1)" text-anchor="end" font-size="25.0">0.8</text><text transform="translate(564.5,1347) scale(1.0,1)" text-anchor="end" font-size="25.0">1</text><text transform="translate(591.7,1562.7) scale(1.0,1)" text-anchor="middle" font-size="25.0">0</text><text transform="translate(663.05,1562.7) scale(1.0,1)" text-anchor="middle" font-size="25.0">1</text><text transform="translate(734.4,1562.7) scale(1.0,1)" text-anchor="middle" font-size="25.0">2</text><text transform="translate(805.75,1562.7) scale(1.0,1)" text-anchor="middle" font-size="25.0">3</text><text transform="translate(877.1,1562.7) scale(1.0,1)" text-anchor="middle" font-size="25.0">4</text><text transform="translate(516.2,1430.5) rotate(-90)" text-anchor="middle" font-size="28.2">Occupancy</text><text transform="translate(901,1345.5) scale(1.04,1)" text-anchor="end" font-size="24.0">1500 nM fcAMP</text><text transform="translate(901,1375.5) scale(1.04,1)" text-anchor="end" font-size="24.0"><tspan font-style="italic">n</tspan> = 49, <tspan font-style="italic">m</tspan> = 134,115</text><text transform="translate(901,1405.5) scale(1.04,1)" text-anchor="end" font-size="24.0">p = 0.31</text></g><text x="1" y="24.5" font-size="31" font-weight="bold">a</text><text x="488.5" y="24.5" font-size="31" font-weight="bold">b</text><text transform="translate(248,1862.5) scale(1.0,1)" text-anchor="middle" font-size="27.4">fcAMP(s) Bound</text><text transform="translate(735.4,1600) scale(1.0,1)" text-anchor="middle" font-size="27.4">fcAMP(s) Bound</text></svg>
</body></html>
